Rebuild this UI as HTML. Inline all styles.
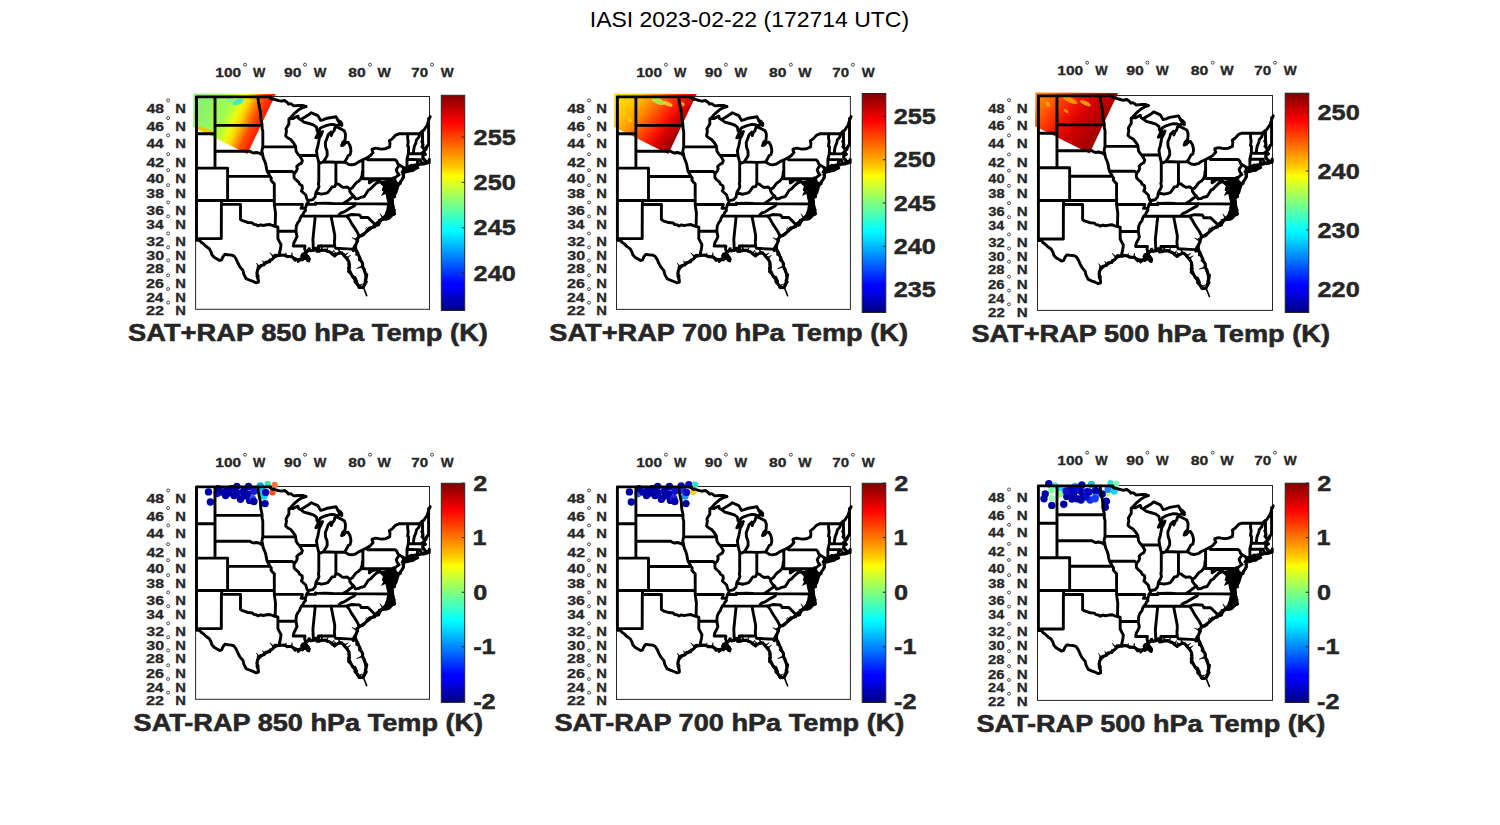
<!DOCTYPE html><html><head><meta charset="utf-8"><style>html,body{margin:0;padding:0;background:#fff;}svg{display:block;font-family:"Liberation Sans",sans-serif;}</style></head><body>
<svg width="1500" height="825" viewBox="0 0 1500 825">
<defs>
<linearGradient id="jet" x1="0" y1="1" x2="0" y2="0"><stop offset="0" stop-color="#00007f"/><stop offset="0.11" stop-color="#0000ff"/><stop offset="0.125" stop-color="#0000ff"/><stop offset="0.34" stop-color="#00e0ff"/><stop offset="0.375" stop-color="#00ffff"/><stop offset="0.625" stop-color="#ffff00"/><stop offset="0.66" stop-color="#ffd000"/><stop offset="0.875" stop-color="#ff0000"/><stop offset="1" stop-color="#7f0000"/></linearGradient>
<linearGradient id="dg0" gradientUnits="userSpaceOnUse" x1="200" y1="110" x2="270" y2="141.5"><stop offset="0" stop-color="#8cf070"/><stop offset="0.32" stop-color="#a0ff50"/><stop offset="0.45" stop-color="#e8ff10"/><stop offset="0.53" stop-color="#ffd800"/><stop offset="0.61" stop-color="#ff9000"/><stop offset="0.69" stop-color="#ff4800"/><stop offset="0.79" stop-color="#ff2000"/><stop offset="1" stop-color="#e81000"/></linearGradient>
<linearGradient id="dg1" gradientUnits="userSpaceOnUse" x1="200" y1="100" x2="262" y2="150"><stop offset="0" stop-color="#ffd800"/><stop offset="0.15" stop-color="#ffc000"/><stop offset="0.3" stop-color="#ff9000"/><stop offset="0.45" stop-color="#ff5000"/><stop offset="0.58" stop-color="#ff1800"/><stop offset="0.7" stop-color="#d80000"/><stop offset="0.82" stop-color="#a80000"/><stop offset="1" stop-color="#900000"/></linearGradient>
<linearGradient id="dg2" gradientUnits="userSpaceOnUse" x1="200" y1="100" x2="262" y2="150"><stop offset="0" stop-color="#ff8000"/><stop offset="0.2" stop-color="#ff4000"/><stop offset="0.38" stop-color="#f01000"/><stop offset="0.55" stop-color="#d00000"/><stop offset="0.72" stop-color="#b00000"/><stop offset="1" stop-color="#900000"/></linearGradient>
<g id="map"><path d="M196.5,96.9 L196.5,240.2 M196.5,96.9 L270.6,96.9 M270.6,96.9 L270.0,97.6 L271.9,99.2 L273.8,99.0 L276.3,100.0 L278.8,100.7 L281.3,101.2 L284.5,100.5 L287.0,102.2 L288.5,104.1 L290.7,103.6 L293.9,105.9 L298.3,105.5 L303.3,105.5 L306.1,106.6 M306.1,106.6 L302.1,107.8 L298.3,110.1 L293.9,113.9 L290.1,118.3 M290.1,118.3 L293.3,118.5 L295.8,117.1 L298.0,116.2 L298.6,118.5 L300.7,119.6 M300.7,119.6 L301.8,118.9 L309.1,114.5 L311.3,112.7 L317.8,115.6 L320.7,120.4 L323.6,119.6 L327.3,118.2 L336.0,116.7 L337.5,119.6 L341.8,123.3 L341.8,125.5 L337.9,120.7 L337.9,120.7 L340.4,121.6 L341.6,123.9 L341.0,124.8 L338.5,124.8 L336.6,125.7 L334.7,124.8 L331.0,124.4 L326.9,125.3 L324.7,126.2 L322.2,127.1 L320.0,128.4 L318.4,132.9 M318.4,132.9 L317.1,130.7 L316.5,127.1 L313.4,124.8 L309.0,123.5 L303.9,122.1 L300.7,119.6 M318.4,132.9 L317.4,134.7 L315.9,137.8 L318.4,136.4 L320.3,133.8 L322.5,131.6 L321.2,135.1 L319.3,138.2 L318.7,141.7 L317.8,146.1 L316.5,150.8 L316.8,153.0 L317.1,155.5 M317.1,155.5 L318.4,161.0 L318.8,162.3 L320.9,163.0 L323.3,161.8 M323.3,161.8 L325.3,158.9 L327.2,155.5 L327.1,151.2 L325.6,146.9 L325.3,142.6 L327.2,137.8 L328.1,134.7 L331.0,132.0 L331.3,135.6 L332.5,132.4 L334.1,130.7 L335.0,127.5 L336.3,126.8 M336.3,126.8 L339.8,128.4 L344.2,130.7 L345.4,133.8 L345.4,136.4 L345.1,140.0 L342.6,142.6 L341.6,145.6 L343.8,144.8 L345.7,142.6 L347.9,142.1 L349.8,145.2 L350.7,148.7 L350.9,151.2 L350.1,154.7 L348.2,155.5 L347.6,156.8 L346.3,159.3 L344.5,162.0 M323.3,161.8 L335.9,162.3 L344.5,162.0 M335.9,162.3 L335.9,183.7 M318.8,162.3 L318.8,181.7 L318.4,183.7 L319.0,186.6 L317.8,189.4 L316.2,191.8 L315.6,194.2 M299.3,155.5 L317.1,155.5 M344.5,162.0 L346.7,163.1 L348.5,164.4 L351.7,164.8 L355.5,164.0 L358.6,161.9 L362.9,159.9 M362.9,159.9 L367.6,157.5 L370.5,155.5 L373.1,152.5 L372.1,150.4 L372.1,149.1 L375.6,148.1 L381.2,149.1 L385.6,148.7 L389.7,146.9 L390.0,143.0 L389.4,140.8 L392.5,138.6 L395.7,135.1 L399.1,133.8 M399.1,133.8 L419.5,133.7 L422.2,131.1 L423.9,130.2 L425.2,128.0 L427.1,125.3 L429.0,119.4 L430.2,116.6 M428.6,118.5 L428.6,144.8 M428.6,144.8 L427.7,145.6 L426.5,147.8 L424.6,150.6 M424.6,150.6 L423.0,147.8 L422.8,144.3 L422.2,131.1 M424.6,150.6 L423.8,152.4 L425.2,154.2 L423.0,155.9 L423.0,157.6 L424.9,160.2 L425.8,161.9 L429.3,161.9 L429.3,159.3 M429.3,162.5 L426.5,163.1 L424.9,163.7 L423.3,163.1 L421.9,164.0 L420.2,164.4 L417.3,165.5 M413.5,153.6 L413.6,150.4 L414.2,146.9 L415.8,143.0 L416.4,140.0 L418.9,137.3 L419.5,133.7 M407.9,133.8 L407.6,137.3 L408.2,141.7 L407.6,146.1 L408.6,146.9 L408.4,153.5 L407.0,159.3 L407.0,166.5 L406.0,168.1 M408.4,153.5 L420.8,153.8 L422.7,152.5 L423.8,152.4 M407.0,159.3 L417.7,159.6 L420.3,159.6 L420.3,160.6 L421.4,162.3 L421.9,164.0 M417.7,159.6 L417.3,165.5 M417.3,165.5 L413.3,165.9 L410.1,166.5 L406.0,168.1 L404.3,169.8 L403.5,170.6 M403.8,171.6 L407.0,171.5 L413.3,169.8 L417.3,167.6 L413.9,168.1 L410.1,168.6 L405.7,169.4 L404.2,170.2 L403.8,171.6 M399.4,165.1 L404.3,168.1 M404.3,168.1 L403.5,170.2 L402.6,171.5 L403.8,172.7 L403.5,176.4 L402.0,179.7 L399.8,182.9 L397.9,185.1 L397.6,183.3 L394.7,182.1 L394.1,180.1 L395.0,178.0 M395.0,178.0 L397.2,176.0 L399.1,174.8 L397.2,172.3 L396.3,169.8 L397.2,168.1 L399.4,165.1 M367.6,157.5 L367.6,159.8 L395.3,159.8 L396.9,161.4 L397.9,164.0 L399.4,165.1 M362.9,159.9 L362.9,178.7 M362.9,178.7 L392.6,178.7 L393.8,177.7 L395.0,178.0 M392.6,178.7 L392.6,188.9 L397.2,188.9 M394.1,179.3 L394.1,180.5 L395.7,183.7 L397.2,186.2 L396.6,190.2 L395.4,193.4 L393.2,196.5 L391.3,199.5 M393.7,192.6 L396.0,192.3 M391.3,199.5 L391.9,196.5 L391.6,193.0 L390.6,189.8 L389.7,185.8 L391.3,182.5 L390.6,180.1 M390.6,180.1 L388.1,182.5 L388.4,184.5 L388.1,186.6 L388.8,189.8 L387.8,191.0 L389.4,193.4 L389.4,196.5 L388.8,199.7 L389.4,200.9 L391.4,201.3 L392.2,204.0 M389.4,192.6 L385.6,190.6 L383.4,189.8 L384.4,186.6 L384.4,184.9 L382.2,183.7 L380.5,182.0 M380.5,182.0 L378.1,179.0 L376.5,180.1 L373.7,179.7 L372.4,180.9 L369.4,182.9 L369.4,178.7 M353.8,196.1 L355.5,198.9 L358.6,198.5 L360.8,197.3 L364.3,196.5 L366.1,193.8 L368.3,190.2 L370.5,189.0 L373.1,186.2 L376.2,183.3 L378.7,182.1 L380.5,182.0 M349.8,189.4 L352.3,187.8 L354.5,184.9 L356.1,182.9 L358.6,181.3 L360.8,178.9 L362.1,175.6 L362.4,171.5 L362.9,171.1 M349.8,189.4 L349.8,191.4 L351.7,194.2 L353.8,196.1 M353.8,196.1 L350.4,198.5 L347.3,200.9 L343.0,203.6 M335.9,183.7 L338.5,184.1 L341.0,186.2 L343.2,187.4 L347.3,187.0 L349.8,189.4 M335.9,183.7 L334.7,186.6 L331.9,187.0 L329.7,190.2 L327.8,192.6 L325.3,193.4 L321.5,194.2 L318.4,193.4 L315.6,194.2 M315.6,194.2 L315.2,196.9 L312.7,199.7 L308.7,200.5 M343.0,203.6 L332.8,203.5 L325.3,203.2 L316.8,203.4 L315.4,203.0 L315.6,204.4 L306.5,204.4 M343.0,203.6 L355.8,203.6 L392.2,204.0 M355.8,203.6 L354.2,206.0 L349.8,208.3 L346.7,210.2 L344.2,211.8 L341.0,212.9 L339.1,214.5 L339.0,216.1 M339.0,216.1 L301.4,216.0 M339.0,216.1 L346.7,216.0 L351.7,214.5 L359.5,214.9 L360.5,216.0 L361.1,217.5 L368.0,217.5 L375.3,224.8 M346.7,216.0 L349.2,219.1 L351.7,223.6 L354.2,227.4 L356.7,231.2 L358.6,234.9 L358.5,237.3 M331.0,216.0 L334.7,234.9 L334.7,238.6 L334.4,241.6 L334.7,246.0 M334.7,246.0 L335.6,248.2 L347.3,248.9 L352.3,249.1 L353.3,250.6 L353.9,247.4 L355.3,248.3 M334.7,246.0 L318.4,246.0 L318.9,251.2 M314.6,216.0 L315.2,216.8 L312.9,239.3 L313.4,250.5 M392.2,204.0 L393.8,209.8 L394.4,214.1 L392.8,214.5 L389.4,216.4 L387.8,218.7 L384.4,218.7 L381.2,220.2 L379.3,222.9 L378.7,224.4 L375.3,224.8 L369.6,229.3 L364.7,233.2 L358.5,237.3 L357.2,240.5 L356.0,244.5 L355.3,248.3 L357.7,252.5 L358.9,256.2 L360.8,260.5 L362.4,263.3 L362.4,266.2 L363.6,269.0 L365.5,274.0 L365.8,277.5 L365.3,281.7 L364.3,284.5 L363.6,286.9 L361.7,287.3 L359.2,287.6 L358.0,284.9 L355.5,282.4 L354.5,278.9 L352.3,276.5 L351.1,273.6 L349.8,270.8 L348.5,268.3 L349.5,264.8 L348.9,261.9 L347.3,259.4 L344.8,256.5 L342.9,254.0 L340.4,252.5 L337.9,253.6 L334.7,255.8 L332.2,254.0 L329.7,251.8 L325.3,250.4 L322.2,250.4 L318.9,251.2 L316.8,251.4 L316.5,250.4 L315.9,248.2 L315.2,249.6 L313.4,250.5 L309.6,250.5 L305.8,251.8 L305.2,252.9 L305.8,254.3 L307.7,256.9 L309.3,259.0 L307.7,260.5 L306.5,258.7 L304.3,258.0 L302.7,259.4 L300.8,258.7 L298.3,259.8 L295.1,258.7 L292.0,256.9 L289.5,256.5 L287.0,256.2 L283.2,254.9 L279.1,255.4 L278.2,255.6 L275.0,256.5 L273.5,258.0 L270.0,260.8 L265.6,263.3 L261.8,265.5 L259.3,267.6 L257.4,270.5 L256.8,273.3 L258.1,278.2 L258.4,282.1 M387.8,218.7 L388.1,216.0 L391.3,213.3 L387.5,211.8 L391.3,209.1 L388.1,207.9 L391.9,206.0 M305.8,251.8 L304.6,248.9 L305.0,246.0 L293.3,246.0 M305.2,208.3 L305.5,210.6 L303.9,212.2 L303.0,214.5 L301.4,216.0 L300.2,218.3 L299.5,220.6 L297.7,222.9 L296.4,225.9 L296.1,228.9 L296.0,231.2 L296.4,234.1 L297.0,236.4 L295.8,239.3 L293.9,242.7 L293.3,246.0 M277.9,231.0 L296.0,231.2 M277.9,231.0 L277.9,238.6 L279.4,241.6 L281.0,244.5 L280.7,247.4 L280.1,250.4 L279.1,255.4 M274.3,204.4 L275.5,212.9 L275.2,226.4 L277.9,227.0 L277.9,231.0 M240.5,219.4 L242.4,220.7 L245.5,221.7 L248.0,222.5 L252.4,222.9 L253.7,224.4 L256.2,224.8 L258.1,225.9 L260.6,224.8 L263.1,225.5 L266.9,224.8 L270.0,224.5 L272.5,225.5 L275.2,226.4 M221.6,204.4 L240.5,204.4 L240.5,219.4 M196.5,200.5 L274.3,200.5 M221.6,200.5 L221.6,204.4 M221.4,204.4 L221.3,238.6 L198.9,238.6 L199.5,240.2 L196.5,240.2 M199.5,240.2 L201.2,242.3 L203.4,243.8 L205.9,246.3 L209.1,248.5 L211.0,251.8 L211.9,254.7 L214.1,257.2 L216.6,258.7 L219.7,260.5 L221.6,259.8 L222.9,256.9 L224.8,254.3 L227.9,254.7 L231.7,255.1 L234.2,256.2 L236.1,259.0 L238.0,263.3 L239.9,266.9 L243.0,270.5 L243.9,274.3 L246.1,278.6 L249.3,280.0 L253.0,281.4 L256.2,282.8 L258.4,282.1 M305.2,208.3 L301.0,208.3 L301.9,206.7 L302.4,204.4 L274.3,204.4 M308.7,200.5 L308.3,201.7 L306.5,204.4 L306.1,206.0 L305.8,207.5 L305.2,208.3 M294.4,173.3 L293.9,175.6 L294.2,178.0 L295.8,179.7 L298.6,182.1 L299.5,184.1 L302.1,185.8 L302.4,188.6 L301.4,191.0 L303.6,193.0 L305.8,195.0 L306.5,197.7 L307.4,200.1 L308.7,200.5 M299.3,155.5 L300.8,157.6 L302.4,160.6 L301.4,163.1 L298.9,164.4 L296.7,166.5 L297.3,168.6 L296.4,171.1 L294.4,173.3 M299.3,155.5 L297.7,153.8 L296.1,151.2 L295.6,146.9 L295.5,146.1 L293.6,143.0 L290.7,139.5 L287.6,137.8 L285.7,136.0 L286.0,133.8 L286.5,131.1 L286.0,128.9 L287.0,127.1 L288.9,124.1 L288.9,118.9 L290.1,118.3 M267.2,171.5 L292.4,171.5 L293.9,173.1 L294.4,173.3 M270.0,176.4 L271.3,178.0 L271.0,180.1 L272.5,182.1 L274.3,183.7 L274.3,200.5 L274.3,204.4 M227.6,176.4 L270.0,176.4 M270.0,176.4 L268.8,173.9 L267.2,171.5 L266.4,168.1 L265.9,164.8 L265.0,161.9 L263.4,158.1 L262.8,155.6 M215.0,151.2 L249.9,151.2 L251.2,152.1 L253.7,153.0 L256.2,152.5 L259.3,153.2 L261.2,154.2 L262.8,155.6 M262.8,155.6 L262.5,153.4 L261.8,151.2 L262.8,146.9 M262.8,146.9 L295.6,146.9 M262.8,146.9 L262.8,131.1 L262.1,128.4 L262.1,125.4 L261.8,123.0 L260.9,119.4 L260.6,115.7 L260.3,111.1 L259.3,106.4 L258.4,101.7 L257.9,96.9 M215.0,125.4 L262.1,125.4 M215.0,96.9 L215.0,168.1 M196.5,133.8 L215.0,133.8 M196.5,168.1 L227.6,168.1 M227.6,168.1 L227.6,200.5" fill="none" stroke="#000" stroke-width="2.9" stroke-linejoin="round" stroke-linecap="round"/>
<path d="M381.5,181.0 L389.0,179.5 L398.0,182.0 L397.0,189.0 L393.5,197.0 L394.5,207.0 L396.0,214.5 L390.5,217.5 L383.5,220.0 L379.5,223.0 L375.0,225.0 L373.5,224.0 L377.0,221.0 L381.0,218.0 L384.5,214.5 L386.5,209.0 L387.5,203.0 L386.5,199.0 L385.5,194.0 L381.0,196.0 L384.5,189.0 L381.5,184.0 Z" fill="#000"/>
<path d="M301.5,253.0 L306.0,251.5 L308.0,255.0 L309.5,262.0 L305.0,259.5 L301.5,258.5 L300.0,256.0 Z" fill="#000"/>
<path d="M428.4,145.1 L427.5,145.4 L425.8,147.6 L426.3,149.5 L424.6,150.6 M425.4,150.7 L423.3,147.9 L421.7,146.7 L423.2,144.7 L421.5,141.4 L422.0,140.7 L422.8,139.3 L422.9,137.2 L422.7,136.4 L421.8,135.7 L422.7,133.7 L422.2,131.1 M424.1,150.0 L423.6,152.3 L425.7,154.4 L422.7,155.2 L422.6,158.6 L424.3,160.4 L426.1,160.8 L427.6,162.8 L427.8,161.6 L429.3,159.3 M429.2,161.9 L426.8,163.1 L423.8,164.3 L423.8,163.8 L423.0,164.2 L420.3,163.4 L417.3,165.5 M417.8,165.0 L415.0,164.7 L412.5,165.5 L411.1,165.0 L407.0,167.5 L407.1,168.6 L402.9,167.9 L403.5,170.6 M404.1,171.1 L406.1,172.2 L409.4,171.2 L410.3,171.0 L412.9,170.7 L413.7,170.2 L414.1,169.6 L418.1,168.0 L414.1,167.4 L414.5,166.8 L411.9,169.1 L409.1,169.8 L408.3,168.9 L406.0,169.9 L404.2,171.1 L403.8,171.6 M403.8,167.8 L404.3,170.2 L401.9,172.2 L404.9,172.4 L402.6,174.5 L403.4,176.2 L403.8,177.3 L402.9,178.7 L400.3,181.8 L400.6,183.6 L398.1,185.2 L397.7,183.8 L394.6,182.3 L394.5,180.1 L395.0,178.0 M394.7,179.7 L395.6,180.7 L394.6,181.8 L395.7,184.4 L397.0,186.4 L398.3,186.2 L395.8,190.4 L396.3,191.9 L395.0,193.9 L394.5,194.6 L395.0,196.8 L391.8,198.0 L391.3,199.5 M391.1,199.5 L389.9,196.2 L392.5,193.9 L391.5,193.7 L391.8,192.5 L389.4,189.5 L389.9,188.2 L390.5,183.7 L391.3,183.1 L391.8,181.4 L390.6,180.1 M390.8,181.0 L389.3,181.4 L388.7,182.6 L388.4,185.7 L388.9,186.3 L390.5,187.3 L389.4,189.6 L387.9,191.5 L389.6,193.8 L388.2,195.4 L389.5,197.4 L388.0,198.6 L390.3,201.4 L392.5,200.6 L392.2,204.0 M392.2,203.2 L393.3,207.1 L392.6,209.1 L394.5,209.7 L392.6,213.0 L394.3,213.6 L393.1,214.8 L392.2,214.7 L390.2,217.5 L388.9,218.6 L385.5,219.5 L384.4,218.8 L383.9,219.3 L379.5,219.9 L378.9,222.2 L379.6,222.4 L378.7,225.0 L377.0,225.6 L375.2,225.5 L375.0,227.1 L371.9,227.7 L369.6,227.4 L368.1,230.1 L367.0,230.6 L366.2,231.9 L364.3,233.4 L364.5,234.3 L362.0,236.0 L359.9,235.3 L358.1,238.1 L356.6,238.5 L358.0,241.1 L356.6,243.1 L356.1,243.6 L354.5,245.9 L356.0,247.9 L355.4,249.1 L355.7,251.0 L356.8,252.8 L356.5,254.6 L358.4,254.7 L360.4,258.1 L359.1,259.8 L361.8,261.6 L363.0,263.9 L362.9,266.4 L364.6,269.5 L364.6,269.1 L365.6,273.3 L365.3,273.6 L367.1,274.4 L366.2,279.3 L364.9,280.1 L366.7,281.6 L364.7,285.2 L362.9,286.9 L362.0,287.9 L359.2,287.5 L357.2,284.6 L357.4,283.7 L354.8,281.8 L357.0,281.5 L355.0,277.0 L353.9,278.0 L353.6,276.8 L351.0,274.0 L348.3,271.6 L348.8,267.8 L350.0,267.9 L348.4,264.3 L349.1,262.0 L347.0,258.7 L347.6,258.7 L343.9,255.5 L344.2,254.7 L341.7,253.1 L337.2,253.8 L334.7,254.1 L334.7,256.2 L331.7,253.9 L331.3,253.2 L330.2,252.0 L327.3,251.7 L325.3,249.7 L321.7,250.4 L320.4,250.9 L318.9,251.4 L316.7,250.5 L316.8,251.1 L316.2,248.0 L315.6,248.9 L311.9,250.5 L310.8,251.1 L308.8,248.5 L306.9,252.3 L305.5,250.8 L304.6,253.3 L306.2,254.5 L308.8,257.4 L309.3,259.5 L309.0,261.2 L307.2,257.9 L304.1,258.5 L302.5,260.2 L301.2,259.4 L298.1,261.7 L297.6,259.1 L295.2,260.6 L293.3,258.4 L292.7,256.9 L288.6,256.7 L287.2,257.0 L285.7,255.6 L283.8,255.3 L281.3,255.2 L278.9,255.9 L277.4,255.1 L276.6,254.9 L274.7,255.0 L273.0,258.4 L272.2,259.4 L269.8,259.8 L269.9,262.1 L267.9,261.8 L265.5,262.0 L264.3,265.1 L260.4,265.4 L261.1,265.2 L258.0,266.8 L257.9,268.0 L257.5,270.6 L257.3,273.8 L258.4,275.8 L256.7,276.2 L257.3,277.4 L258.2,280.1 L258.4,282.1 M388.2,217.5 L387.2,216.0 L389.6,214.4 L391.2,212.8 L389.9,212.8 L387.4,211.3 L389.3,208.4 L390.5,209.1 L388.6,208.6 L388.2,206.9 L389.8,206.7 L391.9,206.0" fill="none" stroke="#000" stroke-width="2.4" stroke-linejoin="round"/>
<path d="M393.8,210.1 L389.7,211.8 L394.1,211.9 Z M394.2,212.8 L390.9,213.5 L394.5,214.6 Z M393.9,214.2 L390.8,208.4 L392.2,214.6 Z M392.6,214.6 L390.7,213.3 L391.0,215.5 Z M391.2,215.4 L389.5,212.8 L389.6,216.3 Z M384.3,218.7 L380.0,213.6 L382.7,219.5 Z M380.9,220.6 L378.1,219.3 L379.9,222.1 Z M376.0,224.2 L371.5,220.0 L374.5,225.3 Z M369.9,229.1 L366.4,227.4 L368.5,230.2 Z M367.8,230.7 L365.7,228.4 L366.4,231.8 Z M357.6,239.5 L351.9,237.6 L356.9,241.1 Z M355.7,246.1 L353.4,245.9 L355.4,247.9 Z M362.1,265.6 L356.5,268.6 L362.8,267.2 Z M362.4,287.2 L360.5,285.4 L360.6,287.4 Z M358.8,286.7 L362.9,283.9 L358.1,285.1 Z M346.8,258.8 L350.7,255.2 L345.6,257.5 Z M344.7,256.5 L348.3,252.7 L343.7,255.0 Z M342.1,253.5 L342.6,251.4 L340.5,252.6 Z M340.8,252.3 L337.4,247.2 L339.2,253.1 Z M337.5,253.9 L334.1,251.4 L336.0,254.9 Z M332.4,254.2 L334.1,250.0 L331.1,253.0 Z M327.4,251.0 L328.1,247.0 L325.7,250.5 Z M323.1,250.4 L321.5,244.6 L321.3,250.4 Z M322.9,250.2 L321.2,244.5 L321.1,250.6 Z M318.2,251.3 L317.1,248.8 L316.4,251.5 Z M316.6,250.8 L318.4,249.1 L316.1,249.0 Z M313.3,250.5 L312.5,248.5 L311.5,250.5 Z M310.7,250.5 L310.1,247.3 L308.9,250.5 Z M292.6,257.0 L292.0,252.5 L290.8,256.7 Z M286.0,255.8 L286.1,252.7 L284.3,255.3 Z M280.7,255.2 L278.8,251.7 L279.0,255.5 Z M274.8,256.7 L269.8,252.7 L273.5,257.9 Z M265.6,263.4 L262.4,260.6 L264.0,264.3 Z M260.0,267.0 L256.4,262.9 L258.7,268.2 Z" fill="#000" stroke="#000" stroke-width="0.5" stroke-linejoin="round"/>
<path d="M363.1,286.5 L366.7,295.6" fill="none" stroke="#000" stroke-width="1.6" stroke-linecap="round"/>
</g>
</defs>
<rect width="1500" height="825" fill="#fff"/>
<text x="589.78" y="26.90" font-size="22.09" font-weight="normal" fill="#000" textLength="319.35" lengthAdjust="spacingAndGlyphs">IASI 2023-02-22 (172714 UTC)</text>
<g transform="matrix(1.00000 0 0 1.00000 0.000 0.000)">
<path d="M193.5,93.6 L275.8,94 L247.4,153.9 L193.2,127 Z" fill="url(#dg0)"/>
<clipPath id="dc0"><path d="M193.5,93.6 L275.8,94 L247.4,153.9 L193.2,127 Z"/></clipPath>
<g clip-path="url(#dc0)">
<ellipse cx="238.0" cy="102.0" rx="6.0" ry="2.6" fill="#30e8e0" opacity="0.90" transform="rotate(-20 238.0 102.0)"/>
<ellipse cx="230.0" cy="100.0" rx="4.0" ry="1.8" fill="#70f0b0" opacity="0.80" transform="rotate(-20 230.0 100.0)"/>
<ellipse cx="205.0" cy="131.0" rx="9.0" ry="3.0" fill="#ffc000" opacity="0.90" transform="rotate(20 205.0 131.0)"/>
</g>
</g>
<rect x="195.60" y="96.50" width="233.90" height="212.80" fill="none" stroke="#262626" stroke-width="1"/>
<use href="#map" transform="matrix(1.00000 0 0 1.00000 0.000 0.000)"/>
<rect x="441.30" y="95.30" width="23.40" height="215.20" fill="url(#jet)" stroke="#262626" stroke-width="1"/>
<text x="473.62" y="144.65" font-size="22.24" font-weight="bold" fill="#262626" stroke="#262626" stroke-width="0.45" textLength="42.19" lengthAdjust="spacingAndGlyphs">255</text>
<line x1="461.70" y1="137.00" x2="464.70" y2="137.00" stroke="#262626" stroke-width="1"/>
<text x="473.62" y="190.02" font-size="22.24" font-weight="bold" fill="#262626" stroke="#262626" stroke-width="0.45" textLength="42.19" lengthAdjust="spacingAndGlyphs">250</text>
<line x1="461.70" y1="182.37" x2="464.70" y2="182.37" stroke="#262626" stroke-width="1"/>
<text x="473.62" y="235.39" font-size="22.24" font-weight="bold" fill="#262626" stroke="#262626" stroke-width="0.45" textLength="42.19" lengthAdjust="spacingAndGlyphs">245</text>
<line x1="461.70" y1="227.74" x2="464.70" y2="227.74" stroke="#262626" stroke-width="1"/>
<text x="473.62" y="280.76" font-size="22.24" font-weight="bold" fill="#262626" stroke="#262626" stroke-width="0.45" textLength="42.19" lengthAdjust="spacingAndGlyphs">240</text>
<line x1="461.70" y1="273.11" x2="464.70" y2="273.11" stroke="#262626" stroke-width="1"/>
<text x="215.33" y="77.20" font-size="13.08" font-weight="bold" fill="#262626" stroke="#262626" stroke-width="0.30" textLength="25.81" lengthAdjust="spacingAndGlyphs">100</text>
<text x="252.99" y="77.20" font-size="13.08" font-weight="bold" fill="#262626" stroke="#262626" stroke-width="0.30" textLength="12.33" lengthAdjust="spacingAndGlyphs">W</text>
<circle cx="245.00" cy="64.70" r="1.5" fill="none" stroke="#262626" stroke-width="0.8"/>
<text x="283.95" y="77.20" font-size="13.08" font-weight="bold" fill="#262626" stroke="#262626" stroke-width="0.30" textLength="17.49" lengthAdjust="spacingAndGlyphs">90</text>
<text x="313.69" y="77.20" font-size="13.08" font-weight="bold" fill="#262626" stroke="#262626" stroke-width="0.30" textLength="12.63" lengthAdjust="spacingAndGlyphs">W</text>
<circle cx="305.00" cy="64.70" r="1.5" fill="none" stroke="#262626" stroke-width="0.8"/>
<text x="348.20" y="77.20" font-size="13.08" font-weight="bold" fill="#262626" stroke="#262626" stroke-width="0.30" textLength="17.44" lengthAdjust="spacingAndGlyphs">80</text>
<text x="377.49" y="77.20" font-size="13.08" font-weight="bold" fill="#262626" stroke="#262626" stroke-width="0.30" textLength="13.33" lengthAdjust="spacingAndGlyphs">W</text>
<circle cx="370.00" cy="64.70" r="1.5" fill="none" stroke="#262626" stroke-width="0.8"/>
<text x="411.35" y="77.20" font-size="13.08" font-weight="bold" fill="#262626" stroke="#262626" stroke-width="0.30" textLength="16.77" lengthAdjust="spacingAndGlyphs">70</text>
<text x="440.79" y="77.20" font-size="13.08" font-weight="bold" fill="#262626" stroke="#262626" stroke-width="0.30" textLength="12.93" lengthAdjust="spacingAndGlyphs">W</text>
<circle cx="432.00" cy="64.70" r="1.5" fill="none" stroke="#262626" stroke-width="0.8"/>
<text x="146.46" y="112.90" font-size="12.79" font-weight="bold" fill="#262626" stroke="#262626" stroke-width="0.30" textLength="17.52" lengthAdjust="spacingAndGlyphs">48</text>
<text x="175.31" y="112.90" font-size="12.79" font-weight="bold" fill="#262626" stroke="#262626" stroke-width="0.30" textLength="10.69" lengthAdjust="spacingAndGlyphs">N</text>
<circle cx="168.10" cy="100.40" r="1.5" fill="none" stroke="#262626" stroke-width="0.8"/>
<text x="146.46" y="130.60" font-size="12.79" font-weight="bold" fill="#262626" stroke="#262626" stroke-width="0.30" textLength="17.61" lengthAdjust="spacingAndGlyphs">46</text>
<text x="175.31" y="130.60" font-size="12.79" font-weight="bold" fill="#262626" stroke="#262626" stroke-width="0.30" textLength="10.69" lengthAdjust="spacingAndGlyphs">N</text>
<circle cx="168.10" cy="118.10" r="1.5" fill="none" stroke="#262626" stroke-width="0.8"/>
<text x="146.47" y="147.90" font-size="12.79" font-weight="bold" fill="#262626" stroke="#262626" stroke-width="0.30" textLength="17.12" lengthAdjust="spacingAndGlyphs">44</text>
<text x="175.31" y="147.90" font-size="12.79" font-weight="bold" fill="#262626" stroke="#262626" stroke-width="0.30" textLength="10.69" lengthAdjust="spacingAndGlyphs">N</text>
<circle cx="168.10" cy="135.40" r="1.5" fill="none" stroke="#262626" stroke-width="0.8"/>
<text x="146.46" y="166.70" font-size="12.79" font-weight="bold" fill="#262626" stroke="#262626" stroke-width="0.30" textLength="17.68" lengthAdjust="spacingAndGlyphs">42</text>
<text x="175.31" y="166.70" font-size="12.79" font-weight="bold" fill="#262626" stroke="#262626" stroke-width="0.30" textLength="10.69" lengthAdjust="spacingAndGlyphs">N</text>
<circle cx="168.10" cy="154.20" r="1.5" fill="none" stroke="#262626" stroke-width="0.8"/>
<text x="146.46" y="182.70" font-size="12.79" font-weight="bold" fill="#262626" stroke="#262626" stroke-width="0.30" textLength="17.69" lengthAdjust="spacingAndGlyphs">40</text>
<text x="175.31" y="182.70" font-size="12.79" font-weight="bold" fill="#262626" stroke="#262626" stroke-width="0.30" textLength="10.69" lengthAdjust="spacingAndGlyphs">N</text>
<circle cx="168.10" cy="170.20" r="1.5" fill="none" stroke="#262626" stroke-width="0.8"/>
<text x="146.34" y="197.70" font-size="12.79" font-weight="bold" fill="#262626" stroke="#262626" stroke-width="0.30" textLength="17.65" lengthAdjust="spacingAndGlyphs">38</text>
<text x="175.31" y="197.70" font-size="12.79" font-weight="bold" fill="#262626" stroke="#262626" stroke-width="0.30" textLength="10.69" lengthAdjust="spacingAndGlyphs">N</text>
<circle cx="168.10" cy="185.20" r="1.5" fill="none" stroke="#262626" stroke-width="0.8"/>
<text x="146.33" y="214.90" font-size="12.79" font-weight="bold" fill="#262626" stroke="#262626" stroke-width="0.30" textLength="17.74" lengthAdjust="spacingAndGlyphs">36</text>
<text x="175.31" y="214.90" font-size="12.79" font-weight="bold" fill="#262626" stroke="#262626" stroke-width="0.30" textLength="10.69" lengthAdjust="spacingAndGlyphs">N</text>
<circle cx="168.10" cy="202.40" r="1.5" fill="none" stroke="#262626" stroke-width="0.8"/>
<text x="146.34" y="228.80" font-size="12.79" font-weight="bold" fill="#262626" stroke="#262626" stroke-width="0.30" textLength="17.24" lengthAdjust="spacingAndGlyphs">34</text>
<text x="175.31" y="228.80" font-size="12.79" font-weight="bold" fill="#262626" stroke="#262626" stroke-width="0.30" textLength="10.69" lengthAdjust="spacingAndGlyphs">N</text>
<circle cx="168.10" cy="216.30" r="1.5" fill="none" stroke="#262626" stroke-width="0.8"/>
<text x="146.33" y="245.90" font-size="12.79" font-weight="bold" fill="#262626" stroke="#262626" stroke-width="0.30" textLength="17.81" lengthAdjust="spacingAndGlyphs">32</text>
<text x="175.31" y="245.90" font-size="12.79" font-weight="bold" fill="#262626" stroke="#262626" stroke-width="0.30" textLength="10.69" lengthAdjust="spacingAndGlyphs">N</text>
<circle cx="168.10" cy="233.40" r="1.5" fill="none" stroke="#262626" stroke-width="0.8"/>
<text x="146.33" y="259.80" font-size="12.79" font-weight="bold" fill="#262626" stroke="#262626" stroke-width="0.30" textLength="17.83" lengthAdjust="spacingAndGlyphs">30</text>
<text x="175.31" y="259.80" font-size="12.79" font-weight="bold" fill="#262626" stroke="#262626" stroke-width="0.30" textLength="10.69" lengthAdjust="spacingAndGlyphs">N</text>
<circle cx="168.10" cy="247.30" r="1.5" fill="none" stroke="#262626" stroke-width="0.8"/>
<text x="146.14" y="272.90" font-size="12.79" font-weight="bold" fill="#262626" stroke="#262626" stroke-width="0.30" textLength="17.85" lengthAdjust="spacingAndGlyphs">28</text>
<text x="175.31" y="272.90" font-size="12.79" font-weight="bold" fill="#262626" stroke="#262626" stroke-width="0.30" textLength="10.69" lengthAdjust="spacingAndGlyphs">N</text>
<circle cx="168.10" cy="260.40" r="1.5" fill="none" stroke="#262626" stroke-width="0.8"/>
<text x="146.14" y="287.80" font-size="12.79" font-weight="bold" fill="#262626" stroke="#262626" stroke-width="0.30" textLength="17.94" lengthAdjust="spacingAndGlyphs">26</text>
<text x="175.31" y="287.80" font-size="12.79" font-weight="bold" fill="#262626" stroke="#262626" stroke-width="0.30" textLength="10.69" lengthAdjust="spacingAndGlyphs">N</text>
<circle cx="168.10" cy="275.30" r="1.5" fill="none" stroke="#262626" stroke-width="0.8"/>
<text x="146.16" y="301.50" font-size="12.79" font-weight="bold" fill="#262626" stroke="#262626" stroke-width="0.30" textLength="17.43" lengthAdjust="spacingAndGlyphs">24</text>
<text x="175.31" y="301.50" font-size="12.79" font-weight="bold" fill="#262626" stroke="#262626" stroke-width="0.30" textLength="10.69" lengthAdjust="spacingAndGlyphs">N</text>
<circle cx="168.10" cy="289.00" r="1.5" fill="none" stroke="#262626" stroke-width="0.8"/>
<text x="146.14" y="315.10" font-size="12.79" font-weight="bold" fill="#262626" stroke="#262626" stroke-width="0.30" textLength="18.01" lengthAdjust="spacingAndGlyphs">22</text>
<text x="175.31" y="315.10" font-size="12.79" font-weight="bold" fill="#262626" stroke="#262626" stroke-width="0.30" textLength="10.69" lengthAdjust="spacingAndGlyphs">N</text>
<circle cx="168.10" cy="302.60" r="1.5" fill="none" stroke="#262626" stroke-width="0.8"/>
<text x="128.12" y="341.10" font-size="23.40" font-weight="bold" fill="#262626" stroke="#262626" stroke-width="0.55" textLength="359.82" lengthAdjust="spacingAndGlyphs">SAT+RAP 850 hPa Temp (K)</text>
<g transform="matrix(1.00000 0 0 1.00047 420.900 -0.045)">
<path d="M193.5,93.6 L275.8,94 L247.4,153.9 L193.2,127 Z" fill="url(#dg1)"/>
<clipPath id="dc1"><path d="M193.5,93.6 L275.8,94 L247.4,153.9 L193.2,127 Z"/></clipPath>
<g clip-path="url(#dc1)">
<ellipse cx="237.1" cy="101.0" rx="7.0" ry="3.0" fill="#a0ff50" opacity="0.80" transform="rotate(25 237.1 101.0)"/>
<ellipse cx="247.1" cy="104.0" rx="5.0" ry="2.0" fill="#ffe040" opacity="0.80" transform="rotate(25 247.1 104.0)"/>
<ellipse cx="261.1" cy="104.0" rx="3.0" ry="2.0" fill="#ffd040" opacity="0.70" transform="rotate(25 261.1 104.0)"/>
<ellipse cx="209.1" cy="120.0" rx="3.0" ry="1.5" fill="#ffe000" opacity="0.70" transform="rotate(60 209.1 120.0)"/>
</g>
</g>
<rect x="616.50" y="96.50" width="233.90" height="212.90" fill="none" stroke="#262626" stroke-width="1"/>
<use href="#map" transform="matrix(1.00000 0 0 1.00047 420.900 -0.045)"/>
<rect x="862.20" y="93.50" width="23.60" height="219.00" fill="url(#jet)" stroke="#262626" stroke-width="1"/>
<text x="893.72" y="124.05" font-size="22.24" font-weight="bold" fill="#262626" stroke="#262626" stroke-width="0.45" textLength="42.19" lengthAdjust="spacingAndGlyphs">255</text>
<line x1="882.80" y1="116.40" x2="885.80" y2="116.40" stroke="#262626" stroke-width="1"/>
<text x="893.72" y="167.33" font-size="22.24" font-weight="bold" fill="#262626" stroke="#262626" stroke-width="0.45" textLength="42.19" lengthAdjust="spacingAndGlyphs">250</text>
<line x1="882.80" y1="159.68" x2="885.80" y2="159.68" stroke="#262626" stroke-width="1"/>
<text x="893.72" y="210.61" font-size="22.24" font-weight="bold" fill="#262626" stroke="#262626" stroke-width="0.45" textLength="42.19" lengthAdjust="spacingAndGlyphs">245</text>
<line x1="882.80" y1="202.96" x2="885.80" y2="202.96" stroke="#262626" stroke-width="1"/>
<text x="893.72" y="253.89" font-size="22.24" font-weight="bold" fill="#262626" stroke="#262626" stroke-width="0.45" textLength="42.19" lengthAdjust="spacingAndGlyphs">240</text>
<line x1="882.80" y1="246.24" x2="885.80" y2="246.24" stroke="#262626" stroke-width="1"/>
<text x="893.72" y="297.17" font-size="22.24" font-weight="bold" fill="#262626" stroke="#262626" stroke-width="0.45" textLength="42.19" lengthAdjust="spacingAndGlyphs">235</text>
<line x1="882.80" y1="289.52" x2="885.80" y2="289.52" stroke="#262626" stroke-width="1"/>
<text x="636.23" y="77.20" font-size="13.08" font-weight="bold" fill="#262626" stroke="#262626" stroke-width="0.30" textLength="25.81" lengthAdjust="spacingAndGlyphs">100</text>
<text x="673.89" y="77.20" font-size="13.08" font-weight="bold" fill="#262626" stroke="#262626" stroke-width="0.30" textLength="12.33" lengthAdjust="spacingAndGlyphs">W</text>
<circle cx="665.90" cy="64.70" r="1.5" fill="none" stroke="#262626" stroke-width="0.8"/>
<text x="704.85" y="77.20" font-size="13.08" font-weight="bold" fill="#262626" stroke="#262626" stroke-width="0.30" textLength="17.49" lengthAdjust="spacingAndGlyphs">90</text>
<text x="734.59" y="77.20" font-size="13.08" font-weight="bold" fill="#262626" stroke="#262626" stroke-width="0.30" textLength="12.63" lengthAdjust="spacingAndGlyphs">W</text>
<circle cx="725.90" cy="64.70" r="1.5" fill="none" stroke="#262626" stroke-width="0.8"/>
<text x="769.10" y="77.20" font-size="13.08" font-weight="bold" fill="#262626" stroke="#262626" stroke-width="0.30" textLength="17.44" lengthAdjust="spacingAndGlyphs">80</text>
<text x="798.39" y="77.20" font-size="13.08" font-weight="bold" fill="#262626" stroke="#262626" stroke-width="0.30" textLength="13.33" lengthAdjust="spacingAndGlyphs">W</text>
<circle cx="790.90" cy="64.70" r="1.5" fill="none" stroke="#262626" stroke-width="0.8"/>
<text x="832.25" y="77.20" font-size="13.08" font-weight="bold" fill="#262626" stroke="#262626" stroke-width="0.30" textLength="16.77" lengthAdjust="spacingAndGlyphs">70</text>
<text x="861.69" y="77.20" font-size="13.08" font-weight="bold" fill="#262626" stroke="#262626" stroke-width="0.30" textLength="12.93" lengthAdjust="spacingAndGlyphs">W</text>
<circle cx="852.90" cy="64.70" r="1.5" fill="none" stroke="#262626" stroke-width="0.8"/>
<text x="567.36" y="112.91" font-size="12.79" font-weight="bold" fill="#262626" stroke="#262626" stroke-width="0.30" textLength="17.52" lengthAdjust="spacingAndGlyphs">48</text>
<text x="596.21" y="112.91" font-size="12.79" font-weight="bold" fill="#262626" stroke="#262626" stroke-width="0.30" textLength="10.69" lengthAdjust="spacingAndGlyphs">N</text>
<circle cx="589.00" cy="100.41" r="1.5" fill="none" stroke="#262626" stroke-width="0.8"/>
<text x="567.36" y="130.61" font-size="12.79" font-weight="bold" fill="#262626" stroke="#262626" stroke-width="0.30" textLength="17.61" lengthAdjust="spacingAndGlyphs">46</text>
<text x="596.21" y="130.61" font-size="12.79" font-weight="bold" fill="#262626" stroke="#262626" stroke-width="0.30" textLength="10.69" lengthAdjust="spacingAndGlyphs">N</text>
<circle cx="589.00" cy="118.11" r="1.5" fill="none" stroke="#262626" stroke-width="0.8"/>
<text x="567.37" y="147.92" font-size="12.79" font-weight="bold" fill="#262626" stroke="#262626" stroke-width="0.30" textLength="17.12" lengthAdjust="spacingAndGlyphs">44</text>
<text x="596.21" y="147.92" font-size="12.79" font-weight="bold" fill="#262626" stroke="#262626" stroke-width="0.30" textLength="10.69" lengthAdjust="spacingAndGlyphs">N</text>
<circle cx="589.00" cy="135.42" r="1.5" fill="none" stroke="#262626" stroke-width="0.8"/>
<text x="567.36" y="166.73" font-size="12.79" font-weight="bold" fill="#262626" stroke="#262626" stroke-width="0.30" textLength="17.68" lengthAdjust="spacingAndGlyphs">42</text>
<text x="596.21" y="166.73" font-size="12.79" font-weight="bold" fill="#262626" stroke="#262626" stroke-width="0.30" textLength="10.69" lengthAdjust="spacingAndGlyphs">N</text>
<circle cx="589.00" cy="154.23" r="1.5" fill="none" stroke="#262626" stroke-width="0.8"/>
<text x="567.36" y="182.74" font-size="12.79" font-weight="bold" fill="#262626" stroke="#262626" stroke-width="0.30" textLength="17.69" lengthAdjust="spacingAndGlyphs">40</text>
<text x="596.21" y="182.74" font-size="12.79" font-weight="bold" fill="#262626" stroke="#262626" stroke-width="0.30" textLength="10.69" lengthAdjust="spacingAndGlyphs">N</text>
<circle cx="589.00" cy="170.24" r="1.5" fill="none" stroke="#262626" stroke-width="0.8"/>
<text x="567.24" y="197.75" font-size="12.79" font-weight="bold" fill="#262626" stroke="#262626" stroke-width="0.30" textLength="17.65" lengthAdjust="spacingAndGlyphs">38</text>
<text x="596.21" y="197.75" font-size="12.79" font-weight="bold" fill="#262626" stroke="#262626" stroke-width="0.30" textLength="10.69" lengthAdjust="spacingAndGlyphs">N</text>
<circle cx="589.00" cy="185.25" r="1.5" fill="none" stroke="#262626" stroke-width="0.8"/>
<text x="567.23" y="214.95" font-size="12.79" font-weight="bold" fill="#262626" stroke="#262626" stroke-width="0.30" textLength="17.74" lengthAdjust="spacingAndGlyphs">36</text>
<text x="596.21" y="214.95" font-size="12.79" font-weight="bold" fill="#262626" stroke="#262626" stroke-width="0.30" textLength="10.69" lengthAdjust="spacingAndGlyphs">N</text>
<circle cx="589.00" cy="202.45" r="1.5" fill="none" stroke="#262626" stroke-width="0.8"/>
<text x="567.24" y="228.86" font-size="12.79" font-weight="bold" fill="#262626" stroke="#262626" stroke-width="0.30" textLength="17.24" lengthAdjust="spacingAndGlyphs">34</text>
<text x="596.21" y="228.86" font-size="12.79" font-weight="bold" fill="#262626" stroke="#262626" stroke-width="0.30" textLength="10.69" lengthAdjust="spacingAndGlyphs">N</text>
<circle cx="589.00" cy="216.36" r="1.5" fill="none" stroke="#262626" stroke-width="0.8"/>
<text x="567.23" y="245.97" font-size="12.79" font-weight="bold" fill="#262626" stroke="#262626" stroke-width="0.30" textLength="17.81" lengthAdjust="spacingAndGlyphs">32</text>
<text x="596.21" y="245.97" font-size="12.79" font-weight="bold" fill="#262626" stroke="#262626" stroke-width="0.30" textLength="10.69" lengthAdjust="spacingAndGlyphs">N</text>
<circle cx="589.00" cy="233.47" r="1.5" fill="none" stroke="#262626" stroke-width="0.8"/>
<text x="567.23" y="259.87" font-size="12.79" font-weight="bold" fill="#262626" stroke="#262626" stroke-width="0.30" textLength="17.83" lengthAdjust="spacingAndGlyphs">30</text>
<text x="596.21" y="259.87" font-size="12.79" font-weight="bold" fill="#262626" stroke="#262626" stroke-width="0.30" textLength="10.69" lengthAdjust="spacingAndGlyphs">N</text>
<circle cx="589.00" cy="247.37" r="1.5" fill="none" stroke="#262626" stroke-width="0.8"/>
<text x="567.04" y="272.98" font-size="12.79" font-weight="bold" fill="#262626" stroke="#262626" stroke-width="0.30" textLength="17.85" lengthAdjust="spacingAndGlyphs">28</text>
<text x="596.21" y="272.98" font-size="12.79" font-weight="bold" fill="#262626" stroke="#262626" stroke-width="0.30" textLength="10.69" lengthAdjust="spacingAndGlyphs">N</text>
<circle cx="589.00" cy="260.48" r="1.5" fill="none" stroke="#262626" stroke-width="0.8"/>
<text x="567.04" y="287.89" font-size="12.79" font-weight="bold" fill="#262626" stroke="#262626" stroke-width="0.30" textLength="17.94" lengthAdjust="spacingAndGlyphs">26</text>
<text x="596.21" y="287.89" font-size="12.79" font-weight="bold" fill="#262626" stroke="#262626" stroke-width="0.30" textLength="10.69" lengthAdjust="spacingAndGlyphs">N</text>
<circle cx="589.00" cy="275.39" r="1.5" fill="none" stroke="#262626" stroke-width="0.8"/>
<text x="567.06" y="301.59" font-size="12.79" font-weight="bold" fill="#262626" stroke="#262626" stroke-width="0.30" textLength="17.43" lengthAdjust="spacingAndGlyphs">24</text>
<text x="596.21" y="301.59" font-size="12.79" font-weight="bold" fill="#262626" stroke="#262626" stroke-width="0.30" textLength="10.69" lengthAdjust="spacingAndGlyphs">N</text>
<circle cx="589.00" cy="289.09" r="1.5" fill="none" stroke="#262626" stroke-width="0.8"/>
<text x="567.04" y="315.20" font-size="12.79" font-weight="bold" fill="#262626" stroke="#262626" stroke-width="0.30" textLength="18.01" lengthAdjust="spacingAndGlyphs">22</text>
<text x="596.21" y="315.20" font-size="12.79" font-weight="bold" fill="#262626" stroke="#262626" stroke-width="0.30" textLength="10.69" lengthAdjust="spacingAndGlyphs">N</text>
<circle cx="589.00" cy="302.70" r="1.5" fill="none" stroke="#262626" stroke-width="0.8"/>
<text x="549.33" y="341.10" font-size="23.40" font-weight="bold" fill="#262626" stroke="#262626" stroke-width="0.55" textLength="358.61" lengthAdjust="spacingAndGlyphs">SAT+RAP 700 hPa Temp (K)</text>
<g transform="matrix(1.00470 0 0 1.00987 840.980 -1.952)">
<path d="M193.5,93.6 L275.8,94 L247.4,153.9 L193.2,127 Z" fill="url(#dg2)"/>
<clipPath id="dc2"><path d="M193.5,93.6 L275.8,94 L247.4,153.9 L193.2,127 Z"/></clipPath>
<g clip-path="url(#dc2)">
<ellipse cx="228.1" cy="101.0" rx="8.0" ry="2.5" fill="#ffb000" opacity="0.80" transform="rotate(25 228.1 101.0)"/>
<ellipse cx="243.1" cy="104.0" rx="6.0" ry="2.0" fill="#ffd000" opacity="0.70" transform="rotate(25 243.1 104.0)"/>
<ellipse cx="206.1" cy="105.0" rx="3.0" ry="1.8" fill="#ffd000" opacity="0.60" transform="rotate(60 206.1 105.0)"/>
<ellipse cx="224.1" cy="112.0" rx="3.0" ry="1.5" fill="#ffc000" opacity="0.60" transform="rotate(40 224.1 112.0)"/>
</g>
</g>
<rect x="1037.50" y="95.50" width="235.00" height="214.90" fill="none" stroke="#262626" stroke-width="1"/>
<use href="#map" transform="matrix(1.00470 0 0 1.00987 840.980 -1.952)"/>
<rect x="1285.20" y="93.20" width="23.60" height="219.30" fill="url(#jet)" stroke="#262626" stroke-width="1"/>
<text x="1317.52" y="119.65" font-size="22.24" font-weight="bold" fill="#262626" stroke="#262626" stroke-width="0.45" textLength="42.19" lengthAdjust="spacingAndGlyphs">250</text>
<line x1="1305.80" y1="112.00" x2="1308.80" y2="112.00" stroke="#262626" stroke-width="1"/>
<text x="1317.52" y="178.62" font-size="22.24" font-weight="bold" fill="#262626" stroke="#262626" stroke-width="0.45" textLength="42.19" lengthAdjust="spacingAndGlyphs">240</text>
<line x1="1305.80" y1="170.97" x2="1308.80" y2="170.97" stroke="#262626" stroke-width="1"/>
<text x="1317.52" y="237.59" font-size="22.24" font-weight="bold" fill="#262626" stroke="#262626" stroke-width="0.45" textLength="42.19" lengthAdjust="spacingAndGlyphs">230</text>
<line x1="1305.80" y1="229.94" x2="1308.80" y2="229.94" stroke="#262626" stroke-width="1"/>
<text x="1317.52" y="296.56" font-size="22.24" font-weight="bold" fill="#262626" stroke="#262626" stroke-width="0.45" textLength="42.19" lengthAdjust="spacingAndGlyphs">220</text>
<line x1="1305.80" y1="288.91" x2="1308.80" y2="288.91" stroke="#262626" stroke-width="1"/>
<text x="1057.32" y="75.20" font-size="13.08" font-weight="bold" fill="#262626" stroke="#262626" stroke-width="0.30" textLength="25.93" lengthAdjust="spacingAndGlyphs">100</text>
<text x="1095.16" y="75.20" font-size="13.08" font-weight="bold" fill="#262626" stroke="#262626" stroke-width="0.30" textLength="12.38" lengthAdjust="spacingAndGlyphs">W</text>
<circle cx="1087.13" cy="62.70" r="1.5" fill="none" stroke="#262626" stroke-width="0.8"/>
<text x="1126.27" y="75.20" font-size="13.08" font-weight="bold" fill="#262626" stroke="#262626" stroke-width="0.30" textLength="17.57" lengthAdjust="spacingAndGlyphs">90</text>
<text x="1156.14" y="75.20" font-size="13.08" font-weight="bold" fill="#262626" stroke="#262626" stroke-width="0.30" textLength="12.69" lengthAdjust="spacingAndGlyphs">W</text>
<circle cx="1147.41" cy="62.70" r="1.5" fill="none" stroke="#262626" stroke-width="0.8"/>
<text x="1190.82" y="75.20" font-size="13.08" font-weight="bold" fill="#262626" stroke="#262626" stroke-width="0.30" textLength="17.52" lengthAdjust="spacingAndGlyphs">80</text>
<text x="1220.24" y="75.20" font-size="13.08" font-weight="bold" fill="#262626" stroke="#262626" stroke-width="0.30" textLength="13.39" lengthAdjust="spacingAndGlyphs">W</text>
<circle cx="1212.72" cy="62.70" r="1.5" fill="none" stroke="#262626" stroke-width="0.8"/>
<text x="1254.27" y="75.20" font-size="13.08" font-weight="bold" fill="#262626" stroke="#262626" stroke-width="0.30" textLength="16.84" lengthAdjust="spacingAndGlyphs">70</text>
<text x="1283.84" y="75.20" font-size="13.08" font-weight="bold" fill="#262626" stroke="#262626" stroke-width="0.30" textLength="12.99" lengthAdjust="spacingAndGlyphs">W</text>
<circle cx="1275.01" cy="62.70" r="1.5" fill="none" stroke="#262626" stroke-width="0.8"/>
<text x="988.38" y="112.62" font-size="12.79" font-weight="bold" fill="#262626" stroke="#262626" stroke-width="0.30" textLength="16.17" lengthAdjust="spacingAndGlyphs">48</text>
<text x="1016.89" y="112.62" font-size="12.79" font-weight="bold" fill="#262626" stroke="#262626" stroke-width="0.30" textLength="10.93" lengthAdjust="spacingAndGlyphs">N</text>
<circle cx="1009.00" cy="100.12" r="1.5" fill="none" stroke="#262626" stroke-width="0.8"/>
<text x="988.38" y="130.49" font-size="12.79" font-weight="bold" fill="#262626" stroke="#262626" stroke-width="0.30" textLength="16.25" lengthAdjust="spacingAndGlyphs">46</text>
<text x="1016.89" y="130.49" font-size="12.79" font-weight="bold" fill="#262626" stroke="#262626" stroke-width="0.30" textLength="10.93" lengthAdjust="spacingAndGlyphs">N</text>
<circle cx="1009.00" cy="117.99" r="1.5" fill="none" stroke="#262626" stroke-width="0.8"/>
<text x="988.39" y="147.96" font-size="12.79" font-weight="bold" fill="#262626" stroke="#262626" stroke-width="0.30" textLength="15.79" lengthAdjust="spacingAndGlyphs">44</text>
<text x="1016.89" y="147.96" font-size="12.79" font-weight="bold" fill="#262626" stroke="#262626" stroke-width="0.30" textLength="10.93" lengthAdjust="spacingAndGlyphs">N</text>
<circle cx="1009.00" cy="135.46" r="1.5" fill="none" stroke="#262626" stroke-width="0.8"/>
<text x="988.38" y="166.95" font-size="12.79" font-weight="bold" fill="#262626" stroke="#262626" stroke-width="0.30" textLength="16.31" lengthAdjust="spacingAndGlyphs">42</text>
<text x="1016.89" y="166.95" font-size="12.79" font-weight="bold" fill="#262626" stroke="#262626" stroke-width="0.30" textLength="10.93" lengthAdjust="spacingAndGlyphs">N</text>
<circle cx="1009.00" cy="154.45" r="1.5" fill="none" stroke="#262626" stroke-width="0.8"/>
<text x="988.38" y="183.11" font-size="12.79" font-weight="bold" fill="#262626" stroke="#262626" stroke-width="0.30" textLength="16.32" lengthAdjust="spacingAndGlyphs">40</text>
<text x="1016.89" y="183.11" font-size="12.79" font-weight="bold" fill="#262626" stroke="#262626" stroke-width="0.30" textLength="10.93" lengthAdjust="spacingAndGlyphs">N</text>
<circle cx="1009.00" cy="170.61" r="1.5" fill="none" stroke="#262626" stroke-width="0.8"/>
<text x="988.26" y="198.26" font-size="12.79" font-weight="bold" fill="#262626" stroke="#262626" stroke-width="0.30" textLength="16.29" lengthAdjust="spacingAndGlyphs">38</text>
<text x="1016.89" y="198.26" font-size="12.79" font-weight="bold" fill="#262626" stroke="#262626" stroke-width="0.30" textLength="10.93" lengthAdjust="spacingAndGlyphs">N</text>
<circle cx="1009.00" cy="185.76" r="1.5" fill="none" stroke="#262626" stroke-width="0.8"/>
<text x="988.26" y="215.62" font-size="12.79" font-weight="bold" fill="#262626" stroke="#262626" stroke-width="0.30" textLength="16.37" lengthAdjust="spacingAndGlyphs">36</text>
<text x="1016.89" y="215.62" font-size="12.79" font-weight="bold" fill="#262626" stroke="#262626" stroke-width="0.30" textLength="10.93" lengthAdjust="spacingAndGlyphs">N</text>
<circle cx="1009.00" cy="203.12" r="1.5" fill="none" stroke="#262626" stroke-width="0.8"/>
<text x="988.27" y="229.66" font-size="12.79" font-weight="bold" fill="#262626" stroke="#262626" stroke-width="0.30" textLength="15.90" lengthAdjust="spacingAndGlyphs">34</text>
<text x="1016.89" y="229.66" font-size="12.79" font-weight="bold" fill="#262626" stroke="#262626" stroke-width="0.30" textLength="10.93" lengthAdjust="spacingAndGlyphs">N</text>
<circle cx="1009.00" cy="217.16" r="1.5" fill="none" stroke="#262626" stroke-width="0.8"/>
<text x="988.26" y="246.93" font-size="12.79" font-weight="bold" fill="#262626" stroke="#262626" stroke-width="0.30" textLength="16.43" lengthAdjust="spacingAndGlyphs">32</text>
<text x="1016.89" y="246.93" font-size="12.79" font-weight="bold" fill="#262626" stroke="#262626" stroke-width="0.30" textLength="10.93" lengthAdjust="spacingAndGlyphs">N</text>
<circle cx="1009.00" cy="234.43" r="1.5" fill="none" stroke="#262626" stroke-width="0.8"/>
<text x="988.26" y="260.97" font-size="12.79" font-weight="bold" fill="#262626" stroke="#262626" stroke-width="0.30" textLength="16.45" lengthAdjust="spacingAndGlyphs">30</text>
<text x="1016.89" y="260.97" font-size="12.79" font-weight="bold" fill="#262626" stroke="#262626" stroke-width="0.30" textLength="10.93" lengthAdjust="spacingAndGlyphs">N</text>
<circle cx="1009.00" cy="248.47" r="1.5" fill="none" stroke="#262626" stroke-width="0.8"/>
<text x="988.09" y="274.20" font-size="12.79" font-weight="bold" fill="#262626" stroke="#262626" stroke-width="0.30" textLength="16.47" lengthAdjust="spacingAndGlyphs">28</text>
<text x="1016.89" y="274.20" font-size="12.79" font-weight="bold" fill="#262626" stroke="#262626" stroke-width="0.30" textLength="10.93" lengthAdjust="spacingAndGlyphs">N</text>
<circle cx="1009.00" cy="261.70" r="1.5" fill="none" stroke="#262626" stroke-width="0.8"/>
<text x="988.08" y="289.24" font-size="12.79" font-weight="bold" fill="#262626" stroke="#262626" stroke-width="0.30" textLength="16.55" lengthAdjust="spacingAndGlyphs">26</text>
<text x="1016.89" y="289.24" font-size="12.79" font-weight="bold" fill="#262626" stroke="#262626" stroke-width="0.30" textLength="10.93" lengthAdjust="spacingAndGlyphs">N</text>
<circle cx="1009.00" cy="276.74" r="1.5" fill="none" stroke="#262626" stroke-width="0.8"/>
<text x="988.10" y="303.08" font-size="12.79" font-weight="bold" fill="#262626" stroke="#262626" stroke-width="0.30" textLength="16.08" lengthAdjust="spacingAndGlyphs">24</text>
<text x="1016.89" y="303.08" font-size="12.79" font-weight="bold" fill="#262626" stroke="#262626" stroke-width="0.30" textLength="10.93" lengthAdjust="spacingAndGlyphs">N</text>
<circle cx="1009.00" cy="290.58" r="1.5" fill="none" stroke="#262626" stroke-width="0.8"/>
<text x="988.08" y="316.81" font-size="12.79" font-weight="bold" fill="#262626" stroke="#262626" stroke-width="0.30" textLength="16.62" lengthAdjust="spacingAndGlyphs">22</text>
<text x="1016.89" y="316.81" font-size="12.79" font-weight="bold" fill="#262626" stroke="#262626" stroke-width="0.30" textLength="10.93" lengthAdjust="spacingAndGlyphs">N</text>
<circle cx="1009.00" cy="304.31" r="1.5" fill="none" stroke="#262626" stroke-width="0.8"/>
<text x="971.43" y="342.10" font-size="23.40" font-weight="bold" fill="#262626" stroke="#262626" stroke-width="0.55" textLength="358.51" lengthAdjust="spacingAndGlyphs">SAT+RAP 500 hPa Temp (K)</text>
<g transform="matrix(1.00000 0 0 1.00000 0.000 390.000)">
</g>
<rect x="195.60" y="486.50" width="233.90" height="212.80" fill="none" stroke="#262626" stroke-width="1"/>
<circle cx="208.5" cy="491.9" r="3.7" fill="#0000a8"/>
<circle cx="210.4" cy="502.0" r="3.7" fill="#0000a8"/>
<circle cx="217.1" cy="493.5" r="3.7" fill="#1010c8"/>
<circle cx="218.1" cy="488.7" r="3.7" fill="#0000a8"/>
<circle cx="225.6" cy="495.6" r="3.7" fill="#0000a8"/>
<circle cx="226.7" cy="490.3" r="3.7" fill="#0000a8"/>
<circle cx="231.5" cy="488.7" r="3.7" fill="#0000a8"/>
<circle cx="234.1" cy="495.6" r="3.7" fill="#0000a8"/>
<circle cx="236.8" cy="486.5" r="3.7" fill="#0000a8"/>
<circle cx="237.3" cy="492.9" r="3.7" fill="#0000a8"/>
<circle cx="240.5" cy="499.3" r="3.7" fill="#0000a8"/>
<circle cx="243.7" cy="490.8" r="3.7" fill="#0000a8"/>
<circle cx="248.5" cy="486.5" r="3.7" fill="#0000a8"/>
<circle cx="248.0" cy="494.0" r="3.7" fill="#0000a8"/>
<circle cx="249.6" cy="500.4" r="3.7" fill="#0000a8"/>
<circle cx="253.9" cy="491.3" r="3.7" fill="#1818d8"/>
<circle cx="252.8" cy="498.3" r="3.2" fill="#3050f0"/>
<circle cx="253.9" cy="501.5" r="3.7" fill="#0000a8"/>
<circle cx="260.3" cy="486.0" r="3.7" fill="#00a8e8"/>
<circle cx="261.9" cy="490.3" r="3.7" fill="#10c0ff"/>
<circle cx="264.0" cy="496.1" r="3.7" fill="#00d8ff"/>
<circle cx="265.6" cy="492.4" r="3.7" fill="#0808b8"/>
<circle cx="265.1" cy="503.6" r="3.7" fill="#0000a8"/>
<circle cx="267.7" cy="483.9" r="3.2" fill="#40e0b0"/>
<circle cx="274.7" cy="484.9" r="3.2" fill="#ff7040"/>
<circle cx="272.5" cy="492.4" r="3.2" fill="#ff5020"/>
<circle cx="229.0" cy="493.0" r="3.7" fill="#0000a8"/>
<circle cx="244.0" cy="496.0" r="3.7" fill="#0000a8"/>
<circle cx="222.0" cy="492.0" r="3.7" fill="#0000a8"/>
<use href="#map" transform="matrix(1.00000 0 0 1.00000 0.000 390.000)"/>
<rect x="441.30" y="483.30" width="23.40" height="219.10" fill="url(#jet)" stroke="#262626" stroke-width="1"/>
<text x="473.32" y="490.75" font-size="22.24" font-weight="bold" fill="#262626" stroke="#262626" stroke-width="0.45" textLength="14.06" lengthAdjust="spacingAndGlyphs">2</text>
<line x1="461.70" y1="483.10" x2="464.70" y2="483.10" stroke="#262626" stroke-width="1"/>
<text x="472.61" y="545.33" font-size="22.24" font-weight="bold" fill="#262626" stroke="#262626" stroke-width="0.45" textLength="14.06" lengthAdjust="spacingAndGlyphs">1</text>
<line x1="461.70" y1="537.68" x2="464.70" y2="537.68" stroke="#262626" stroke-width="1"/>
<text x="473.20" y="599.91" font-size="22.24" font-weight="bold" fill="#262626" stroke="#262626" stroke-width="0.45" textLength="14.06" lengthAdjust="spacingAndGlyphs">0</text>
<line x1="461.70" y1="592.26" x2="464.70" y2="592.26" stroke="#262626" stroke-width="1"/>
<text x="473.21" y="654.49" font-size="22.24" font-weight="bold" fill="#262626" stroke="#262626" stroke-width="0.45" textLength="22.48" lengthAdjust="spacingAndGlyphs">-1</text>
<line x1="461.70" y1="646.84" x2="464.70" y2="646.84" stroke="#262626" stroke-width="1"/>
<text x="473.21" y="709.07" font-size="22.24" font-weight="bold" fill="#262626" stroke="#262626" stroke-width="0.45" textLength="22.48" lengthAdjust="spacingAndGlyphs">-2</text>
<line x1="461.70" y1="701.42" x2="464.70" y2="701.42" stroke="#262626" stroke-width="1"/>
<text x="215.33" y="467.20" font-size="13.08" font-weight="bold" fill="#262626" stroke="#262626" stroke-width="0.30" textLength="25.81" lengthAdjust="spacingAndGlyphs">100</text>
<text x="252.99" y="467.20" font-size="13.08" font-weight="bold" fill="#262626" stroke="#262626" stroke-width="0.30" textLength="12.33" lengthAdjust="spacingAndGlyphs">W</text>
<circle cx="245.00" cy="454.70" r="1.5" fill="none" stroke="#262626" stroke-width="0.8"/>
<text x="283.95" y="467.20" font-size="13.08" font-weight="bold" fill="#262626" stroke="#262626" stroke-width="0.30" textLength="17.49" lengthAdjust="spacingAndGlyphs">90</text>
<text x="313.69" y="467.20" font-size="13.08" font-weight="bold" fill="#262626" stroke="#262626" stroke-width="0.30" textLength="12.63" lengthAdjust="spacingAndGlyphs">W</text>
<circle cx="305.00" cy="454.70" r="1.5" fill="none" stroke="#262626" stroke-width="0.8"/>
<text x="348.20" y="467.20" font-size="13.08" font-weight="bold" fill="#262626" stroke="#262626" stroke-width="0.30" textLength="17.44" lengthAdjust="spacingAndGlyphs">80</text>
<text x="377.49" y="467.20" font-size="13.08" font-weight="bold" fill="#262626" stroke="#262626" stroke-width="0.30" textLength="13.33" lengthAdjust="spacingAndGlyphs">W</text>
<circle cx="370.00" cy="454.70" r="1.5" fill="none" stroke="#262626" stroke-width="0.8"/>
<text x="411.35" y="467.20" font-size="13.08" font-weight="bold" fill="#262626" stroke="#262626" stroke-width="0.30" textLength="16.77" lengthAdjust="spacingAndGlyphs">70</text>
<text x="440.79" y="467.20" font-size="13.08" font-weight="bold" fill="#262626" stroke="#262626" stroke-width="0.30" textLength="12.93" lengthAdjust="spacingAndGlyphs">W</text>
<circle cx="432.00" cy="454.70" r="1.5" fill="none" stroke="#262626" stroke-width="0.8"/>
<text x="146.46" y="502.90" font-size="12.79" font-weight="bold" fill="#262626" stroke="#262626" stroke-width="0.30" textLength="17.52" lengthAdjust="spacingAndGlyphs">48</text>
<text x="175.31" y="502.90" font-size="12.79" font-weight="bold" fill="#262626" stroke="#262626" stroke-width="0.30" textLength="10.69" lengthAdjust="spacingAndGlyphs">N</text>
<circle cx="168.10" cy="490.40" r="1.5" fill="none" stroke="#262626" stroke-width="0.8"/>
<text x="146.46" y="520.60" font-size="12.79" font-weight="bold" fill="#262626" stroke="#262626" stroke-width="0.30" textLength="17.61" lengthAdjust="spacingAndGlyphs">46</text>
<text x="175.31" y="520.60" font-size="12.79" font-weight="bold" fill="#262626" stroke="#262626" stroke-width="0.30" textLength="10.69" lengthAdjust="spacingAndGlyphs">N</text>
<circle cx="168.10" cy="508.10" r="1.5" fill="none" stroke="#262626" stroke-width="0.8"/>
<text x="146.47" y="537.90" font-size="12.79" font-weight="bold" fill="#262626" stroke="#262626" stroke-width="0.30" textLength="17.12" lengthAdjust="spacingAndGlyphs">44</text>
<text x="175.31" y="537.90" font-size="12.79" font-weight="bold" fill="#262626" stroke="#262626" stroke-width="0.30" textLength="10.69" lengthAdjust="spacingAndGlyphs">N</text>
<circle cx="168.10" cy="525.40" r="1.5" fill="none" stroke="#262626" stroke-width="0.8"/>
<text x="146.46" y="556.70" font-size="12.79" font-weight="bold" fill="#262626" stroke="#262626" stroke-width="0.30" textLength="17.68" lengthAdjust="spacingAndGlyphs">42</text>
<text x="175.31" y="556.70" font-size="12.79" font-weight="bold" fill="#262626" stroke="#262626" stroke-width="0.30" textLength="10.69" lengthAdjust="spacingAndGlyphs">N</text>
<circle cx="168.10" cy="544.20" r="1.5" fill="none" stroke="#262626" stroke-width="0.8"/>
<text x="146.46" y="572.70" font-size="12.79" font-weight="bold" fill="#262626" stroke="#262626" stroke-width="0.30" textLength="17.69" lengthAdjust="spacingAndGlyphs">40</text>
<text x="175.31" y="572.70" font-size="12.79" font-weight="bold" fill="#262626" stroke="#262626" stroke-width="0.30" textLength="10.69" lengthAdjust="spacingAndGlyphs">N</text>
<circle cx="168.10" cy="560.20" r="1.5" fill="none" stroke="#262626" stroke-width="0.8"/>
<text x="146.34" y="587.70" font-size="12.79" font-weight="bold" fill="#262626" stroke="#262626" stroke-width="0.30" textLength="17.65" lengthAdjust="spacingAndGlyphs">38</text>
<text x="175.31" y="587.70" font-size="12.79" font-weight="bold" fill="#262626" stroke="#262626" stroke-width="0.30" textLength="10.69" lengthAdjust="spacingAndGlyphs">N</text>
<circle cx="168.10" cy="575.20" r="1.5" fill="none" stroke="#262626" stroke-width="0.8"/>
<text x="146.33" y="604.90" font-size="12.79" font-weight="bold" fill="#262626" stroke="#262626" stroke-width="0.30" textLength="17.74" lengthAdjust="spacingAndGlyphs">36</text>
<text x="175.31" y="604.90" font-size="12.79" font-weight="bold" fill="#262626" stroke="#262626" stroke-width="0.30" textLength="10.69" lengthAdjust="spacingAndGlyphs">N</text>
<circle cx="168.10" cy="592.40" r="1.5" fill="none" stroke="#262626" stroke-width="0.8"/>
<text x="146.34" y="618.80" font-size="12.79" font-weight="bold" fill="#262626" stroke="#262626" stroke-width="0.30" textLength="17.24" lengthAdjust="spacingAndGlyphs">34</text>
<text x="175.31" y="618.80" font-size="12.79" font-weight="bold" fill="#262626" stroke="#262626" stroke-width="0.30" textLength="10.69" lengthAdjust="spacingAndGlyphs">N</text>
<circle cx="168.10" cy="606.30" r="1.5" fill="none" stroke="#262626" stroke-width="0.8"/>
<text x="146.33" y="635.90" font-size="12.79" font-weight="bold" fill="#262626" stroke="#262626" stroke-width="0.30" textLength="17.81" lengthAdjust="spacingAndGlyphs">32</text>
<text x="175.31" y="635.90" font-size="12.79" font-weight="bold" fill="#262626" stroke="#262626" stroke-width="0.30" textLength="10.69" lengthAdjust="spacingAndGlyphs">N</text>
<circle cx="168.10" cy="623.40" r="1.5" fill="none" stroke="#262626" stroke-width="0.8"/>
<text x="146.33" y="649.80" font-size="12.79" font-weight="bold" fill="#262626" stroke="#262626" stroke-width="0.30" textLength="17.83" lengthAdjust="spacingAndGlyphs">30</text>
<text x="175.31" y="649.80" font-size="12.79" font-weight="bold" fill="#262626" stroke="#262626" stroke-width="0.30" textLength="10.69" lengthAdjust="spacingAndGlyphs">N</text>
<circle cx="168.10" cy="637.30" r="1.5" fill="none" stroke="#262626" stroke-width="0.8"/>
<text x="146.14" y="662.90" font-size="12.79" font-weight="bold" fill="#262626" stroke="#262626" stroke-width="0.30" textLength="17.85" lengthAdjust="spacingAndGlyphs">28</text>
<text x="175.31" y="662.90" font-size="12.79" font-weight="bold" fill="#262626" stroke="#262626" stroke-width="0.30" textLength="10.69" lengthAdjust="spacingAndGlyphs">N</text>
<circle cx="168.10" cy="650.40" r="1.5" fill="none" stroke="#262626" stroke-width="0.8"/>
<text x="146.14" y="677.80" font-size="12.79" font-weight="bold" fill="#262626" stroke="#262626" stroke-width="0.30" textLength="17.94" lengthAdjust="spacingAndGlyphs">26</text>
<text x="175.31" y="677.80" font-size="12.79" font-weight="bold" fill="#262626" stroke="#262626" stroke-width="0.30" textLength="10.69" lengthAdjust="spacingAndGlyphs">N</text>
<circle cx="168.10" cy="665.30" r="1.5" fill="none" stroke="#262626" stroke-width="0.8"/>
<text x="146.16" y="691.50" font-size="12.79" font-weight="bold" fill="#262626" stroke="#262626" stroke-width="0.30" textLength="17.43" lengthAdjust="spacingAndGlyphs">24</text>
<text x="175.31" y="691.50" font-size="12.79" font-weight="bold" fill="#262626" stroke="#262626" stroke-width="0.30" textLength="10.69" lengthAdjust="spacingAndGlyphs">N</text>
<circle cx="168.10" cy="679.00" r="1.5" fill="none" stroke="#262626" stroke-width="0.8"/>
<text x="146.14" y="705.10" font-size="12.79" font-weight="bold" fill="#262626" stroke="#262626" stroke-width="0.30" textLength="18.01" lengthAdjust="spacingAndGlyphs">22</text>
<text x="175.31" y="705.10" font-size="12.79" font-weight="bold" fill="#262626" stroke="#262626" stroke-width="0.30" textLength="10.69" lengthAdjust="spacingAndGlyphs">N</text>
<circle cx="168.10" cy="692.60" r="1.5" fill="none" stroke="#262626" stroke-width="0.8"/>
<text x="133.63" y="731.10" font-size="23.40" font-weight="bold" fill="#262626" stroke="#262626" stroke-width="0.55" textLength="349.50" lengthAdjust="spacingAndGlyphs">SAT-RAP 850 hPa Temp (K)</text>
<g transform="matrix(1.00000 0 0 1.00047 420.900 389.955)">
</g>
<rect x="616.50" y="486.50" width="233.90" height="212.90" fill="none" stroke="#262626" stroke-width="1"/>
<circle cx="629.4" cy="491.9" r="3.7" fill="#0000a8"/>
<circle cx="631.3" cy="502.0" r="3.7" fill="#0000a8"/>
<circle cx="638.0" cy="493.5" r="3.7" fill="#2060f0"/>
<circle cx="639.0" cy="488.7" r="3.7" fill="#0000a8"/>
<circle cx="646.5" cy="495.6" r="3.7" fill="#0000a8"/>
<circle cx="647.6" cy="490.3" r="3.7" fill="#0000a8"/>
<circle cx="652.4" cy="488.7" r="3.7" fill="#0000a8"/>
<circle cx="655.0" cy="495.6" r="3.7" fill="#0000a8"/>
<circle cx="657.7" cy="486.5" r="3.7" fill="#0000a8"/>
<circle cx="658.2" cy="492.9" r="3.7" fill="#0000a8"/>
<circle cx="661.4" cy="499.3" r="3.7" fill="#0000a8"/>
<circle cx="664.6" cy="490.8" r="3.7" fill="#0000a8"/>
<circle cx="669.4" cy="486.5" r="3.7" fill="#0000a8"/>
<circle cx="668.9" cy="494.0" r="3.7" fill="#0000a8"/>
<circle cx="670.5" cy="500.4" r="3.7" fill="#0000a8"/>
<circle cx="674.8" cy="491.3" r="3.7" fill="#1010d0"/>
<circle cx="673.7" cy="498.3" r="3.7" fill="#2020e0"/>
<circle cx="674.8" cy="501.5" r="3.7" fill="#0000a8"/>
<circle cx="681.2" cy="486.0" r="3.7" fill="#0808b8"/>
<circle cx="682.8" cy="490.3" r="3.7" fill="#1030e8"/>
<circle cx="684.9" cy="496.1" r="3.7" fill="#2090ff"/>
<circle cx="686.5" cy="492.4" r="3.7" fill="#1010c0"/>
<circle cx="686.0" cy="503.6" r="3.7" fill="#0000a8"/>
<circle cx="688.8" cy="484.7" r="3.7" fill="#0a10c0"/>
<circle cx="695.1" cy="484.7" r="3.2" fill="#30e0c0"/>
<circle cx="693.2" cy="492.0" r="3.2" fill="#ffd020"/>
<circle cx="650.0" cy="493.0" r="3.7" fill="#0000a8"/>
<circle cx="665.0" cy="496.0" r="3.7" fill="#0000a8"/>
<circle cx="643.0" cy="492.0" r="3.7" fill="#0000a8"/>
<use href="#map" transform="matrix(1.00000 0 0 1.00047 420.900 389.955)"/>
<rect x="862.20" y="483.30" width="23.60" height="219.20" fill="url(#jet)" stroke="#262626" stroke-width="1"/>
<text x="894.22" y="490.75" font-size="22.24" font-weight="bold" fill="#262626" stroke="#262626" stroke-width="0.45" textLength="14.06" lengthAdjust="spacingAndGlyphs">2</text>
<line x1="882.80" y1="483.10" x2="885.80" y2="483.10" stroke="#262626" stroke-width="1"/>
<text x="893.51" y="545.33" font-size="22.24" font-weight="bold" fill="#262626" stroke="#262626" stroke-width="0.45" textLength="14.06" lengthAdjust="spacingAndGlyphs">1</text>
<line x1="882.80" y1="537.68" x2="885.80" y2="537.68" stroke="#262626" stroke-width="1"/>
<text x="894.10" y="599.91" font-size="22.24" font-weight="bold" fill="#262626" stroke="#262626" stroke-width="0.45" textLength="14.06" lengthAdjust="spacingAndGlyphs">0</text>
<line x1="882.80" y1="592.26" x2="885.80" y2="592.26" stroke="#262626" stroke-width="1"/>
<text x="894.11" y="654.49" font-size="22.24" font-weight="bold" fill="#262626" stroke="#262626" stroke-width="0.45" textLength="22.48" lengthAdjust="spacingAndGlyphs">-1</text>
<line x1="882.80" y1="646.84" x2="885.80" y2="646.84" stroke="#262626" stroke-width="1"/>
<text x="894.11" y="709.07" font-size="22.24" font-weight="bold" fill="#262626" stroke="#262626" stroke-width="0.45" textLength="22.48" lengthAdjust="spacingAndGlyphs">-2</text>
<line x1="882.80" y1="701.42" x2="885.80" y2="701.42" stroke="#262626" stroke-width="1"/>
<text x="636.23" y="467.20" font-size="13.08" font-weight="bold" fill="#262626" stroke="#262626" stroke-width="0.30" textLength="25.81" lengthAdjust="spacingAndGlyphs">100</text>
<text x="673.89" y="467.20" font-size="13.08" font-weight="bold" fill="#262626" stroke="#262626" stroke-width="0.30" textLength="12.33" lengthAdjust="spacingAndGlyphs">W</text>
<circle cx="665.90" cy="454.70" r="1.5" fill="none" stroke="#262626" stroke-width="0.8"/>
<text x="704.85" y="467.20" font-size="13.08" font-weight="bold" fill="#262626" stroke="#262626" stroke-width="0.30" textLength="17.49" lengthAdjust="spacingAndGlyphs">90</text>
<text x="734.59" y="467.20" font-size="13.08" font-weight="bold" fill="#262626" stroke="#262626" stroke-width="0.30" textLength="12.63" lengthAdjust="spacingAndGlyphs">W</text>
<circle cx="725.90" cy="454.70" r="1.5" fill="none" stroke="#262626" stroke-width="0.8"/>
<text x="769.10" y="467.20" font-size="13.08" font-weight="bold" fill="#262626" stroke="#262626" stroke-width="0.30" textLength="17.44" lengthAdjust="spacingAndGlyphs">80</text>
<text x="798.39" y="467.20" font-size="13.08" font-weight="bold" fill="#262626" stroke="#262626" stroke-width="0.30" textLength="13.33" lengthAdjust="spacingAndGlyphs">W</text>
<circle cx="790.90" cy="454.70" r="1.5" fill="none" stroke="#262626" stroke-width="0.8"/>
<text x="832.25" y="467.20" font-size="13.08" font-weight="bold" fill="#262626" stroke="#262626" stroke-width="0.30" textLength="16.77" lengthAdjust="spacingAndGlyphs">70</text>
<text x="861.69" y="467.20" font-size="13.08" font-weight="bold" fill="#262626" stroke="#262626" stroke-width="0.30" textLength="12.93" lengthAdjust="spacingAndGlyphs">W</text>
<circle cx="852.90" cy="454.70" r="1.5" fill="none" stroke="#262626" stroke-width="0.8"/>
<text x="567.36" y="502.91" font-size="12.79" font-weight="bold" fill="#262626" stroke="#262626" stroke-width="0.30" textLength="17.52" lengthAdjust="spacingAndGlyphs">48</text>
<text x="596.21" y="502.91" font-size="12.79" font-weight="bold" fill="#262626" stroke="#262626" stroke-width="0.30" textLength="10.69" lengthAdjust="spacingAndGlyphs">N</text>
<circle cx="589.00" cy="490.41" r="1.5" fill="none" stroke="#262626" stroke-width="0.8"/>
<text x="567.36" y="520.61" font-size="12.79" font-weight="bold" fill="#262626" stroke="#262626" stroke-width="0.30" textLength="17.61" lengthAdjust="spacingAndGlyphs">46</text>
<text x="596.21" y="520.61" font-size="12.79" font-weight="bold" fill="#262626" stroke="#262626" stroke-width="0.30" textLength="10.69" lengthAdjust="spacingAndGlyphs">N</text>
<circle cx="589.00" cy="508.11" r="1.5" fill="none" stroke="#262626" stroke-width="0.8"/>
<text x="567.37" y="537.92" font-size="12.79" font-weight="bold" fill="#262626" stroke="#262626" stroke-width="0.30" textLength="17.12" lengthAdjust="spacingAndGlyphs">44</text>
<text x="596.21" y="537.92" font-size="12.79" font-weight="bold" fill="#262626" stroke="#262626" stroke-width="0.30" textLength="10.69" lengthAdjust="spacingAndGlyphs">N</text>
<circle cx="589.00" cy="525.42" r="1.5" fill="none" stroke="#262626" stroke-width="0.8"/>
<text x="567.36" y="556.73" font-size="12.79" font-weight="bold" fill="#262626" stroke="#262626" stroke-width="0.30" textLength="17.68" lengthAdjust="spacingAndGlyphs">42</text>
<text x="596.21" y="556.73" font-size="12.79" font-weight="bold" fill="#262626" stroke="#262626" stroke-width="0.30" textLength="10.69" lengthAdjust="spacingAndGlyphs">N</text>
<circle cx="589.00" cy="544.23" r="1.5" fill="none" stroke="#262626" stroke-width="0.8"/>
<text x="567.36" y="572.74" font-size="12.79" font-weight="bold" fill="#262626" stroke="#262626" stroke-width="0.30" textLength="17.69" lengthAdjust="spacingAndGlyphs">40</text>
<text x="596.21" y="572.74" font-size="12.79" font-weight="bold" fill="#262626" stroke="#262626" stroke-width="0.30" textLength="10.69" lengthAdjust="spacingAndGlyphs">N</text>
<circle cx="589.00" cy="560.24" r="1.5" fill="none" stroke="#262626" stroke-width="0.8"/>
<text x="567.24" y="587.75" font-size="12.79" font-weight="bold" fill="#262626" stroke="#262626" stroke-width="0.30" textLength="17.65" lengthAdjust="spacingAndGlyphs">38</text>
<text x="596.21" y="587.75" font-size="12.79" font-weight="bold" fill="#262626" stroke="#262626" stroke-width="0.30" textLength="10.69" lengthAdjust="spacingAndGlyphs">N</text>
<circle cx="589.00" cy="575.25" r="1.5" fill="none" stroke="#262626" stroke-width="0.8"/>
<text x="567.23" y="604.95" font-size="12.79" font-weight="bold" fill="#262626" stroke="#262626" stroke-width="0.30" textLength="17.74" lengthAdjust="spacingAndGlyphs">36</text>
<text x="596.21" y="604.95" font-size="12.79" font-weight="bold" fill="#262626" stroke="#262626" stroke-width="0.30" textLength="10.69" lengthAdjust="spacingAndGlyphs">N</text>
<circle cx="589.00" cy="592.45" r="1.5" fill="none" stroke="#262626" stroke-width="0.8"/>
<text x="567.24" y="618.86" font-size="12.79" font-weight="bold" fill="#262626" stroke="#262626" stroke-width="0.30" textLength="17.24" lengthAdjust="spacingAndGlyphs">34</text>
<text x="596.21" y="618.86" font-size="12.79" font-weight="bold" fill="#262626" stroke="#262626" stroke-width="0.30" textLength="10.69" lengthAdjust="spacingAndGlyphs">N</text>
<circle cx="589.00" cy="606.36" r="1.5" fill="none" stroke="#262626" stroke-width="0.8"/>
<text x="567.23" y="635.97" font-size="12.79" font-weight="bold" fill="#262626" stroke="#262626" stroke-width="0.30" textLength="17.81" lengthAdjust="spacingAndGlyphs">32</text>
<text x="596.21" y="635.97" font-size="12.79" font-weight="bold" fill="#262626" stroke="#262626" stroke-width="0.30" textLength="10.69" lengthAdjust="spacingAndGlyphs">N</text>
<circle cx="589.00" cy="623.47" r="1.5" fill="none" stroke="#262626" stroke-width="0.8"/>
<text x="567.23" y="649.87" font-size="12.79" font-weight="bold" fill="#262626" stroke="#262626" stroke-width="0.30" textLength="17.83" lengthAdjust="spacingAndGlyphs">30</text>
<text x="596.21" y="649.87" font-size="12.79" font-weight="bold" fill="#262626" stroke="#262626" stroke-width="0.30" textLength="10.69" lengthAdjust="spacingAndGlyphs">N</text>
<circle cx="589.00" cy="637.37" r="1.5" fill="none" stroke="#262626" stroke-width="0.8"/>
<text x="567.04" y="662.98" font-size="12.79" font-weight="bold" fill="#262626" stroke="#262626" stroke-width="0.30" textLength="17.85" lengthAdjust="spacingAndGlyphs">28</text>
<text x="596.21" y="662.98" font-size="12.79" font-weight="bold" fill="#262626" stroke="#262626" stroke-width="0.30" textLength="10.69" lengthAdjust="spacingAndGlyphs">N</text>
<circle cx="589.00" cy="650.48" r="1.5" fill="none" stroke="#262626" stroke-width="0.8"/>
<text x="567.04" y="677.89" font-size="12.79" font-weight="bold" fill="#262626" stroke="#262626" stroke-width="0.30" textLength="17.94" lengthAdjust="spacingAndGlyphs">26</text>
<text x="596.21" y="677.89" font-size="12.79" font-weight="bold" fill="#262626" stroke="#262626" stroke-width="0.30" textLength="10.69" lengthAdjust="spacingAndGlyphs">N</text>
<circle cx="589.00" cy="665.39" r="1.5" fill="none" stroke="#262626" stroke-width="0.8"/>
<text x="567.06" y="691.59" font-size="12.79" font-weight="bold" fill="#262626" stroke="#262626" stroke-width="0.30" textLength="17.43" lengthAdjust="spacingAndGlyphs">24</text>
<text x="596.21" y="691.59" font-size="12.79" font-weight="bold" fill="#262626" stroke="#262626" stroke-width="0.30" textLength="10.69" lengthAdjust="spacingAndGlyphs">N</text>
<circle cx="589.00" cy="679.09" r="1.5" fill="none" stroke="#262626" stroke-width="0.8"/>
<text x="567.04" y="705.20" font-size="12.79" font-weight="bold" fill="#262626" stroke="#262626" stroke-width="0.30" textLength="18.01" lengthAdjust="spacingAndGlyphs">22</text>
<text x="596.21" y="705.20" font-size="12.79" font-weight="bold" fill="#262626" stroke="#262626" stroke-width="0.30" textLength="10.69" lengthAdjust="spacingAndGlyphs">N</text>
<circle cx="589.00" cy="692.70" r="1.5" fill="none" stroke="#262626" stroke-width="0.8"/>
<text x="554.43" y="731.10" font-size="23.40" font-weight="bold" fill="#262626" stroke="#262626" stroke-width="0.55" textLength="349.90" lengthAdjust="spacingAndGlyphs">SAT-RAP 700 hPa Temp (K)</text>
<g transform="matrix(1.00470 0 0 1.00987 840.980 388.048)">
</g>
<rect x="1037.50" y="485.50" width="235.00" height="214.90" fill="none" stroke="#262626" stroke-width="1"/>
<circle cx="1051.2" cy="490.4" r="3.2" fill="#80ff90"/>
<circle cx="1051.8" cy="498.2" r="3.2" fill="#a0ffb0"/>
<circle cx="1060.2" cy="488.6" r="3.7" fill="#20d8ff"/>
<circle cx="1060.2" cy="494.0" r="3.2" fill="#80ff80"/>
<circle cx="1068.6" cy="488.6" r="3.7" fill="#20e8ff"/>
<circle cx="1091.4" cy="484.4" r="3.7" fill="#20c0c0"/>
<circle cx="1107.0" cy="493.4" r="3.2" fill="#c0ff50"/>
<circle cx="1108.2" cy="489.2" r="3.7" fill="#2080ff"/>
<circle cx="1110.6" cy="483.2" r="3.2" fill="#30e0e0"/>
<circle cx="1114.2" cy="491.0" r="3.7" fill="#20d0ff"/>
<circle cx="1116.0" cy="483.8" r="3.2" fill="#80ffb0"/>
<circle cx="1096.2" cy="495.2" r="3.7" fill="#2090ff"/>
<circle cx="1055.0" cy="485.5" r="3.2" fill="#50e0ff"/>
<circle cx="1075.0" cy="486.0" r="3.2" fill="#30b0ff"/>
<circle cx="1048.8" cy="483.8" r="3.7" fill="#0000a8"/>
<circle cx="1045.2" cy="494.0" r="3.7" fill="#0000a8"/>
<circle cx="1044.0" cy="498.8" r="3.7" fill="#0000a8"/>
<circle cx="1051.8" cy="505.4" r="3.7" fill="#0000a8"/>
<circle cx="1063.8" cy="504.2" r="3.7" fill="#0000a8"/>
<circle cx="1066.8" cy="496.4" r="3.7" fill="#0000a8"/>
<circle cx="1073.4" cy="494.0" r="3.7" fill="#0000a8"/>
<circle cx="1077.0" cy="498.8" r="3.7" fill="#0000a8"/>
<circle cx="1081.8" cy="485.0" r="3.7" fill="#0000a8"/>
<circle cx="1080.6" cy="491.0" r="3.7" fill="#0000a8"/>
<circle cx="1083.0" cy="495.8" r="3.7" fill="#0000a8"/>
<circle cx="1086.6" cy="491.6" r="3.7" fill="#0818d0"/>
<circle cx="1090.2" cy="500.0" r="3.7" fill="#1030e0"/>
<circle cx="1095.0" cy="498.8" r="3.7" fill="#1838f0"/>
<circle cx="1095.6" cy="490.4" r="3.7" fill="#0000a8"/>
<circle cx="1106.4" cy="501.2" r="3.7" fill="#0000a8"/>
<circle cx="1105.2" cy="507.2" r="3.7" fill="#0000a8"/>
<circle cx="1102.2" cy="494.0" r="3.7" fill="#0000a8"/>
<circle cx="1070.0" cy="490.0" r="3.7" fill="#0000c0"/>
<circle cx="1076.0" cy="490.0" r="3.7" fill="#0008c8"/>
<circle cx="1086.0" cy="497.0" r="3.7" fill="#0010d0"/>
<circle cx="1089.0" cy="492.0" r="3.7" fill="#0000c0"/>
<circle cx="1072.0" cy="499.0" r="3.7" fill="#0000a8"/>
<circle cx="1081.0" cy="500.0" r="3.7" fill="#0000a8"/>
<circle cx="1066.0" cy="491.0" r="3.7" fill="#1010c8"/>
<use href="#map" transform="matrix(1.00470 0 0 1.00987 840.980 388.048)"/>
<rect x="1285.20" y="483.20" width="23.60" height="219.30" fill="url(#jet)" stroke="#262626" stroke-width="1"/>
<text x="1317.22" y="490.75" font-size="22.24" font-weight="bold" fill="#262626" stroke="#262626" stroke-width="0.45" textLength="14.06" lengthAdjust="spacingAndGlyphs">2</text>
<line x1="1305.80" y1="483.10" x2="1308.80" y2="483.10" stroke="#262626" stroke-width="1"/>
<text x="1316.51" y="545.33" font-size="22.24" font-weight="bold" fill="#262626" stroke="#262626" stroke-width="0.45" textLength="14.06" lengthAdjust="spacingAndGlyphs">1</text>
<line x1="1305.80" y1="537.68" x2="1308.80" y2="537.68" stroke="#262626" stroke-width="1"/>
<text x="1317.10" y="599.91" font-size="22.24" font-weight="bold" fill="#262626" stroke="#262626" stroke-width="0.45" textLength="14.06" lengthAdjust="spacingAndGlyphs">0</text>
<line x1="1305.80" y1="592.26" x2="1308.80" y2="592.26" stroke="#262626" stroke-width="1"/>
<text x="1317.11" y="654.49" font-size="22.24" font-weight="bold" fill="#262626" stroke="#262626" stroke-width="0.45" textLength="22.48" lengthAdjust="spacingAndGlyphs">-1</text>
<line x1="1305.80" y1="646.84" x2="1308.80" y2="646.84" stroke="#262626" stroke-width="1"/>
<text x="1317.11" y="709.07" font-size="22.24" font-weight="bold" fill="#262626" stroke="#262626" stroke-width="0.45" textLength="22.48" lengthAdjust="spacingAndGlyphs">-2</text>
<line x1="1305.80" y1="701.42" x2="1308.80" y2="701.42" stroke="#262626" stroke-width="1"/>
<text x="1057.32" y="465.20" font-size="13.08" font-weight="bold" fill="#262626" stroke="#262626" stroke-width="0.30" textLength="25.93" lengthAdjust="spacingAndGlyphs">100</text>
<text x="1095.16" y="465.20" font-size="13.08" font-weight="bold" fill="#262626" stroke="#262626" stroke-width="0.30" textLength="12.38" lengthAdjust="spacingAndGlyphs">W</text>
<circle cx="1087.13" cy="452.70" r="1.5" fill="none" stroke="#262626" stroke-width="0.8"/>
<text x="1126.27" y="465.20" font-size="13.08" font-weight="bold" fill="#262626" stroke="#262626" stroke-width="0.30" textLength="17.57" lengthAdjust="spacingAndGlyphs">90</text>
<text x="1156.14" y="465.20" font-size="13.08" font-weight="bold" fill="#262626" stroke="#262626" stroke-width="0.30" textLength="12.69" lengthAdjust="spacingAndGlyphs">W</text>
<circle cx="1147.41" cy="452.70" r="1.5" fill="none" stroke="#262626" stroke-width="0.8"/>
<text x="1190.82" y="465.20" font-size="13.08" font-weight="bold" fill="#262626" stroke="#262626" stroke-width="0.30" textLength="17.52" lengthAdjust="spacingAndGlyphs">80</text>
<text x="1220.24" y="465.20" font-size="13.08" font-weight="bold" fill="#262626" stroke="#262626" stroke-width="0.30" textLength="13.39" lengthAdjust="spacingAndGlyphs">W</text>
<circle cx="1212.72" cy="452.70" r="1.5" fill="none" stroke="#262626" stroke-width="0.8"/>
<text x="1254.27" y="465.20" font-size="13.08" font-weight="bold" fill="#262626" stroke="#262626" stroke-width="0.30" textLength="16.84" lengthAdjust="spacingAndGlyphs">70</text>
<text x="1283.84" y="465.20" font-size="13.08" font-weight="bold" fill="#262626" stroke="#262626" stroke-width="0.30" textLength="12.99" lengthAdjust="spacingAndGlyphs">W</text>
<circle cx="1275.01" cy="452.70" r="1.5" fill="none" stroke="#262626" stroke-width="0.8"/>
<text x="988.38" y="502.02" font-size="12.79" font-weight="bold" fill="#262626" stroke="#262626" stroke-width="0.30" textLength="16.17" lengthAdjust="spacingAndGlyphs">48</text>
<text x="1016.89" y="502.02" font-size="12.79" font-weight="bold" fill="#262626" stroke="#262626" stroke-width="0.30" textLength="10.93" lengthAdjust="spacingAndGlyphs">N</text>
<circle cx="1009.00" cy="489.52" r="1.5" fill="none" stroke="#262626" stroke-width="0.8"/>
<text x="988.38" y="519.89" font-size="12.79" font-weight="bold" fill="#262626" stroke="#262626" stroke-width="0.30" textLength="16.25" lengthAdjust="spacingAndGlyphs">46</text>
<text x="1016.89" y="519.89" font-size="12.79" font-weight="bold" fill="#262626" stroke="#262626" stroke-width="0.30" textLength="10.93" lengthAdjust="spacingAndGlyphs">N</text>
<circle cx="1009.00" cy="507.39" r="1.5" fill="none" stroke="#262626" stroke-width="0.8"/>
<text x="988.39" y="537.36" font-size="12.79" font-weight="bold" fill="#262626" stroke="#262626" stroke-width="0.30" textLength="15.79" lengthAdjust="spacingAndGlyphs">44</text>
<text x="1016.89" y="537.36" font-size="12.79" font-weight="bold" fill="#262626" stroke="#262626" stroke-width="0.30" textLength="10.93" lengthAdjust="spacingAndGlyphs">N</text>
<circle cx="1009.00" cy="524.86" r="1.5" fill="none" stroke="#262626" stroke-width="0.8"/>
<text x="988.38" y="556.35" font-size="12.79" font-weight="bold" fill="#262626" stroke="#262626" stroke-width="0.30" textLength="16.31" lengthAdjust="spacingAndGlyphs">42</text>
<text x="1016.89" y="556.35" font-size="12.79" font-weight="bold" fill="#262626" stroke="#262626" stroke-width="0.30" textLength="10.93" lengthAdjust="spacingAndGlyphs">N</text>
<circle cx="1009.00" cy="543.85" r="1.5" fill="none" stroke="#262626" stroke-width="0.8"/>
<text x="988.38" y="572.51" font-size="12.79" font-weight="bold" fill="#262626" stroke="#262626" stroke-width="0.30" textLength="16.32" lengthAdjust="spacingAndGlyphs">40</text>
<text x="1016.89" y="572.51" font-size="12.79" font-weight="bold" fill="#262626" stroke="#262626" stroke-width="0.30" textLength="10.93" lengthAdjust="spacingAndGlyphs">N</text>
<circle cx="1009.00" cy="560.01" r="1.5" fill="none" stroke="#262626" stroke-width="0.8"/>
<text x="988.26" y="587.66" font-size="12.79" font-weight="bold" fill="#262626" stroke="#262626" stroke-width="0.30" textLength="16.29" lengthAdjust="spacingAndGlyphs">38</text>
<text x="1016.89" y="587.66" font-size="12.79" font-weight="bold" fill="#262626" stroke="#262626" stroke-width="0.30" textLength="10.93" lengthAdjust="spacingAndGlyphs">N</text>
<circle cx="1009.00" cy="575.16" r="1.5" fill="none" stroke="#262626" stroke-width="0.8"/>
<text x="988.26" y="605.02" font-size="12.79" font-weight="bold" fill="#262626" stroke="#262626" stroke-width="0.30" textLength="16.37" lengthAdjust="spacingAndGlyphs">36</text>
<text x="1016.89" y="605.02" font-size="12.79" font-weight="bold" fill="#262626" stroke="#262626" stroke-width="0.30" textLength="10.93" lengthAdjust="spacingAndGlyphs">N</text>
<circle cx="1009.00" cy="592.52" r="1.5" fill="none" stroke="#262626" stroke-width="0.8"/>
<text x="988.27" y="619.06" font-size="12.79" font-weight="bold" fill="#262626" stroke="#262626" stroke-width="0.30" textLength="15.90" lengthAdjust="spacingAndGlyphs">34</text>
<text x="1016.89" y="619.06" font-size="12.79" font-weight="bold" fill="#262626" stroke="#262626" stroke-width="0.30" textLength="10.93" lengthAdjust="spacingAndGlyphs">N</text>
<circle cx="1009.00" cy="606.56" r="1.5" fill="none" stroke="#262626" stroke-width="0.8"/>
<text x="988.26" y="636.33" font-size="12.79" font-weight="bold" fill="#262626" stroke="#262626" stroke-width="0.30" textLength="16.43" lengthAdjust="spacingAndGlyphs">32</text>
<text x="1016.89" y="636.33" font-size="12.79" font-weight="bold" fill="#262626" stroke="#262626" stroke-width="0.30" textLength="10.93" lengthAdjust="spacingAndGlyphs">N</text>
<circle cx="1009.00" cy="623.83" r="1.5" fill="none" stroke="#262626" stroke-width="0.8"/>
<text x="988.26" y="650.37" font-size="12.79" font-weight="bold" fill="#262626" stroke="#262626" stroke-width="0.30" textLength="16.45" lengthAdjust="spacingAndGlyphs">30</text>
<text x="1016.89" y="650.37" font-size="12.79" font-weight="bold" fill="#262626" stroke="#262626" stroke-width="0.30" textLength="10.93" lengthAdjust="spacingAndGlyphs">N</text>
<circle cx="1009.00" cy="637.87" r="1.5" fill="none" stroke="#262626" stroke-width="0.8"/>
<text x="988.09" y="663.60" font-size="12.79" font-weight="bold" fill="#262626" stroke="#262626" stroke-width="0.30" textLength="16.47" lengthAdjust="spacingAndGlyphs">28</text>
<text x="1016.89" y="663.60" font-size="12.79" font-weight="bold" fill="#262626" stroke="#262626" stroke-width="0.30" textLength="10.93" lengthAdjust="spacingAndGlyphs">N</text>
<circle cx="1009.00" cy="651.10" r="1.5" fill="none" stroke="#262626" stroke-width="0.8"/>
<text x="988.08" y="678.64" font-size="12.79" font-weight="bold" fill="#262626" stroke="#262626" stroke-width="0.30" textLength="16.55" lengthAdjust="spacingAndGlyphs">26</text>
<text x="1016.89" y="678.64" font-size="12.79" font-weight="bold" fill="#262626" stroke="#262626" stroke-width="0.30" textLength="10.93" lengthAdjust="spacingAndGlyphs">N</text>
<circle cx="1009.00" cy="666.14" r="1.5" fill="none" stroke="#262626" stroke-width="0.8"/>
<text x="988.10" y="692.48" font-size="12.79" font-weight="bold" fill="#262626" stroke="#262626" stroke-width="0.30" textLength="16.08" lengthAdjust="spacingAndGlyphs">24</text>
<text x="1016.89" y="692.48" font-size="12.79" font-weight="bold" fill="#262626" stroke="#262626" stroke-width="0.30" textLength="10.93" lengthAdjust="spacingAndGlyphs">N</text>
<circle cx="1009.00" cy="679.98" r="1.5" fill="none" stroke="#262626" stroke-width="0.8"/>
<text x="988.08" y="706.21" font-size="12.79" font-weight="bold" fill="#262626" stroke="#262626" stroke-width="0.30" textLength="16.62" lengthAdjust="spacingAndGlyphs">22</text>
<text x="1016.89" y="706.21" font-size="12.79" font-weight="bold" fill="#262626" stroke="#262626" stroke-width="0.30" textLength="10.93" lengthAdjust="spacingAndGlyphs">N</text>
<circle cx="1009.00" cy="693.71" r="1.5" fill="none" stroke="#262626" stroke-width="0.8"/>
<text x="976.43" y="732.10" font-size="23.40" font-weight="bold" fill="#262626" stroke="#262626" stroke-width="0.55" textLength="348.89" lengthAdjust="spacingAndGlyphs">SAT-RAP 500 hPa Temp (K)</text>
</svg></body></html>
